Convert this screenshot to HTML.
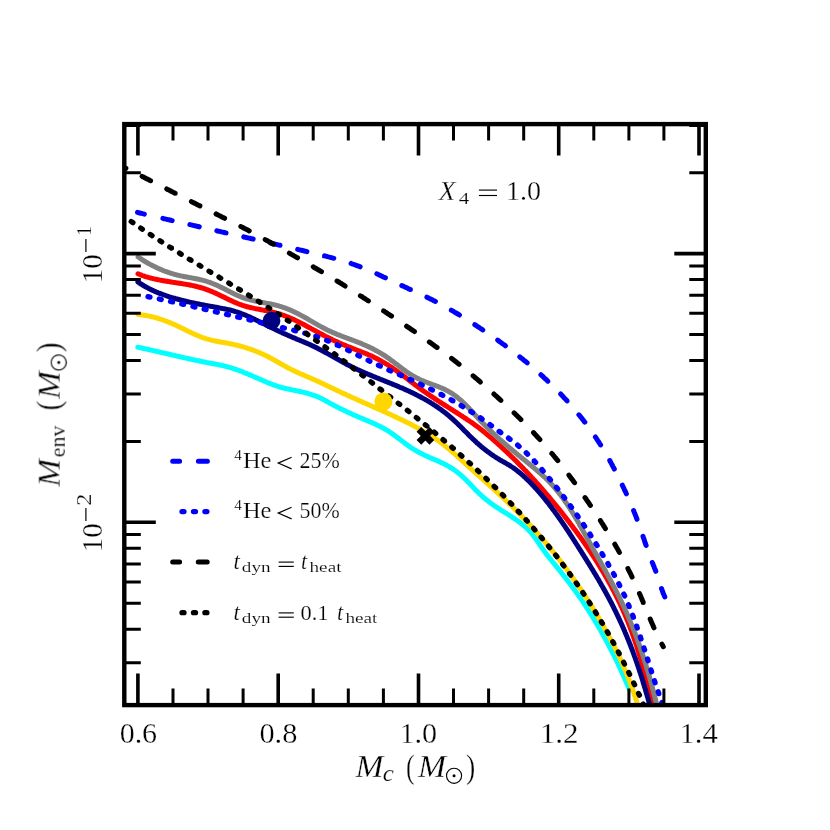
<!DOCTYPE html>
<html><head><meta charset="utf-8"><title>fig</title>
<style>
html,body{margin:0;padding:0;background:#fff;}
svg{display:block;}
text{font-family:"Liberation Serif",serif;fill:#000;stroke:#fff;}
.i{font-style:italic;}
</style></head><body>
<svg width="830" height="830" viewBox="0 0 830 830">
<rect width="830" height="830" fill="#fff"/>
<defs><clipPath id="ax"><rect x="124.3" y="124.1" width="581.5" height="581.0"/></clipPath></defs>
<g clip-path="url(#ax)">
<path d="M137.8 347.2 L138.8 347.4 L139.8 347.6 L140.7 347.8 L141.7 348.0 L142.7 348.3 L143.7 348.5 L144.6 348.7 L145.6 348.9 L146.6 349.1 L147.6 349.3 L148.5 349.5 L149.5 349.8 L150.5 350.0 L151.5 350.2 L152.5 350.4 L153.4 350.6 L154.4 350.9 L155.4 351.1 L156.4 351.3 L157.4 351.5 L158.3 351.8 L159.3 352.0 L160.3 352.2 L161.3 352.4 L162.3 352.7 L163.2 352.9 L164.2 353.1 L165.2 353.3 L166.2 353.6 L167.2 353.8 L168.1 354.0 L169.1 354.3 L170.1 354.5 L171.1 354.7 L172.0 354.9 L173.0 355.2 L174.0 355.4 L175.0 355.6 L176.0 355.8 L176.9 356.1 L177.9 356.3 L178.9 356.5 L179.9 356.8 L180.9 357.0 L181.8 357.2 L182.8 357.4 L183.8 357.6 L184.8 357.9 L185.7 358.1 L186.7 358.3 L187.7 358.5 L188.7 358.7 L189.6 359.0 L190.6 359.2 L191.6 359.4 L192.6 359.6 L193.5 359.8 L194.5 360.0 L195.5 360.2 L196.5 360.4 L197.4 360.6 L198.4 360.8 L199.4 361.0 L200.4 361.2 L201.3 361.4 L202.3 361.6 L203.3 361.8 L204.2 362.0 L205.2 362.2 L206.2 362.4 L207.2 362.6 L208.1 362.8 L209.1 362.9 L210.1 363.1 L211.0 363.3 L212.0 363.5 L213.0 363.7 L213.9 363.8 L214.9 364.0 L215.9 364.2 L216.8 364.4 L217.8 364.6 L218.8 364.8 L219.7 365.0 L220.7 365.2 L221.6 365.4 L222.6 365.6 L223.6 365.8 L224.5 366.1 L225.5 366.3 L226.4 366.6 L227.4 366.8 L228.4 367.1 L229.3 367.3 L230.3 367.6 L231.2 367.9 L232.2 368.2 L233.1 368.5 L234.1 368.8 L235.1 369.1 L236.0 369.4 L237.0 369.8 L237.9 370.1 L238.9 370.5 L239.8 370.8 L240.8 371.2 L241.7 371.5 L242.7 371.9 L243.6 372.3 L244.5 372.7 L245.5 373.1 L246.4 373.4 L247.4 373.8 L248.3 374.2 L249.3 374.6 L250.2 375.0 L251.1 375.4 L252.1 375.8 L253.0 376.2 L254.0 376.6 L254.9 377.1 L255.8 377.5 L256.8 377.9 L257.7 378.3 L258.6 378.7 L259.6 379.1 L260.5 379.5 L261.4 379.9 L262.3 380.3 L263.3 380.7 L264.2 381.1 L265.1 381.5 L266.1 381.9 L267.0 382.3 L267.9 382.7 L268.8 383.1 L269.8 383.4 L270.7 383.8 L271.6 384.2 L272.5 384.5 L273.5 384.9 L274.4 385.2 L275.3 385.5 L276.2 385.9 L277.2 386.2 L278.1 386.5 L279.0 386.8 L280.0 387.0 L280.9 387.3 L281.8 387.6 L282.8 387.8 L283.7 388.0 L284.6 388.3 L285.6 388.5 L286.5 388.7 L287.5 388.9 L288.4 389.1 L289.4 389.3 L290.3 389.5 L291.3 389.7 L292.2 389.9 L293.2 390.1 L294.1 390.3 L295.1 390.5 L296.1 390.7 L297.0 390.9 L298.0 391.1 L299.0 391.3 L300.0 391.5 L301.0 391.7 L302.0 391.9 L303.0 392.2 L303.9 392.4 L304.9 392.7 L305.9 392.9 L306.9 393.2 L307.9 393.5 L308.9 393.8 L309.9 394.1 L310.9 394.4 L311.8 394.7 L312.8 395.0 L313.8 395.3 L314.7 395.7 L315.7 396.0 L316.6 396.4 L317.6 396.8 L318.5 397.2 L319.4 397.6 L320.3 398.0 L321.2 398.4 L322.1 398.9 L323.0 399.3 L323.8 399.8 L324.7 400.2 L325.5 400.7 L326.4 401.2 L327.3 401.7 L328.1 402.1 L329.0 402.6 L329.8 403.1 L330.7 403.6 L331.6 404.1 L332.4 404.5 L333.3 405.0 L334.2 405.5 L335.1 405.9 L336.0 406.4 L336.8 406.8 L337.7 407.3 L338.6 407.7 L339.5 408.2 L340.4 408.6 L341.3 409.1 L342.2 409.5 L343.2 410.0 L344.1 410.4 L345.0 410.9 L345.9 411.3 L346.8 411.7 L347.7 412.1 L348.6 412.6 L349.6 413.0 L350.5 413.4 L351.4 413.8 L352.3 414.2 L353.2 414.7 L354.2 415.1 L355.1 415.5 L356.0 415.9 L356.9 416.3 L357.8 416.7 L358.7 417.1 L359.7 417.5 L360.6 417.8 L361.5 418.2 L362.4 418.6 L363.3 419.0 L364.2 419.4 L365.1 419.8 L366.0 420.1 L366.9 420.5 L367.8 420.9 L368.7 421.3 L369.6 421.7 L370.5 422.1 L371.4 422.4 L372.3 422.8 L373.2 423.2 L374.1 423.6 L375.0 424.0 L375.9 424.4 L376.8 424.9 L377.6 425.3 L378.5 425.7 L379.4 426.1 L380.3 426.6 L381.1 427.0 L382.0 427.5 L382.9 427.9 L383.7 428.4 L384.6 428.9 L385.5 429.4 L386.3 429.9 L387.2 430.4 L388.0 430.9 L388.9 431.5 L389.7 432.0 L390.6 432.6 L391.4 433.2 L392.3 433.7 L393.1 434.3 L393.9 434.9 L394.8 435.6 L395.6 436.2 L396.4 436.8 L397.3 437.4 L398.1 438.1 L398.9 438.7 L399.8 439.3 L400.6 440.0 L401.4 440.6 L402.2 441.2 L403.1 441.9 L403.9 442.5 L404.7 443.1 L405.5 443.7 L406.4 444.3 L407.2 444.9 L408.0 445.5 L408.8 446.1 L409.7 446.7 L410.5 447.3 L411.3 447.8 L412.2 448.4 L413.0 448.9 L413.8 449.4 L414.7 449.9 L415.5 450.4 L416.3 450.9 L417.2 451.4 L418.0 451.8 L418.9 452.3 L419.7 452.8 L420.6 453.2 L421.4 453.6 L422.3 454.1 L423.1 454.5 L424.0 454.9 L424.9 455.3 L425.7 455.7 L426.6 456.1 L427.5 456.5 L428.4 456.9 L429.2 457.3 L430.1 457.7 L431.0 458.1 L431.9 458.5 L432.8 458.9 L433.7 459.3 L434.6 459.7 L435.6 460.0 L436.5 460.4 L437.4 460.8 L438.3 461.2 L439.2 461.6 L440.1 462.0 L441.0 462.5 L441.9 462.9 L442.9 463.3 L443.8 463.8 L444.7 464.2 L445.6 464.7 L446.5 465.1 L447.4 465.6 L448.2 466.1 L449.1 466.6 L450.0 467.2 L450.9 467.7 L451.8 468.3 L452.6 468.8 L453.5 469.4 L454.3 470.0 L455.2 470.6 L456.0 471.2 L456.8 471.8 L457.6 472.4 L458.4 473.1 L459.2 473.7 L460.0 474.4 L460.7 475.0 L461.5 475.7 L462.3 476.4 L463.0 477.1 L463.7 477.7 L464.4 478.4 L465.1 479.1 L465.9 479.8 L466.6 480.5 L467.2 481.2 L467.9 481.9 L468.6 482.6 L469.3 483.3 L470.0 484.0 L470.7 484.7 L471.3 485.4 L472.0 486.1 L472.7 486.8 L473.4 487.6 L474.0 488.3 L474.7 489.0 L475.4 489.7 L476.1 490.4 L476.8 491.1 L477.5 491.8 L478.2 492.5 L478.9 493.2 L479.6 493.9 L480.4 494.6 L481.1 495.2 L481.9 495.9 L482.6 496.6 L483.4 497.3 L484.1 497.9 L484.9 498.6 L485.7 499.2 L486.5 499.9 L487.3 500.5 L488.1 501.1 L488.9 501.8 L489.7 502.4 L490.5 503.0 L491.3 503.6 L492.1 504.2 L492.9 504.7 L493.8 505.3 L494.6 505.9 L495.4 506.4 L496.3 507.0 L497.1 507.6 L497.9 508.1 L498.8 508.6 L499.6 509.2 L500.4 509.7 L501.3 510.3 L502.1 510.8 L503.0 511.3 L503.8 511.9 L504.7 512.4 L505.5 512.9 L506.4 513.4 L507.2 514.0 L508.0 514.5 L508.9 515.0 L509.7 515.6 L510.6 516.1 L511.4 516.7 L512.2 517.2 L513.1 517.7 L513.9 518.3 L514.8 518.9 L515.6 519.4 L516.4 520.0 L517.2 520.6 L518.1 521.2 L518.9 521.7 L519.7 522.3 L520.5 523.0 L521.3 523.6 L522.1 524.2 L522.8 524.8 L523.6 525.5 L524.4 526.1 L525.1 526.8 L525.9 527.4 L526.6 528.1 L527.3 528.8 L528.0 529.5 L528.7 530.2 L529.4 530.9 L530.1 531.7 L530.7 532.4 L531.4 533.2 L532.0 533.9 L532.6 534.7 L533.2 535.5 L533.8 536.3 L534.4 537.0 L535.0 537.8 L535.6 538.7 L536.2 539.5 L536.8 540.3 L537.3 541.1 L537.9 541.9 L538.5 542.7 L539.0 543.6 L539.6 544.4 L540.1 545.2 L540.7 546.0 L541.3 546.9 L541.8 547.7 L542.4 548.5 L543.0 549.3 L543.6 550.2 L544.2 551.0 L544.7 551.8 L545.3 552.6 L545.9 553.4 L546.5 554.2 L547.1 555.0 L547.8 555.8 L548.4 556.6 L549.0 557.4 L549.6 558.1 L550.2 558.9 L550.9 559.7 L551.5 560.5 L552.1 561.3 L552.7 562.1 L553.4 562.8 L554.0 563.6 L554.6 564.4 L555.3 565.2 L555.9 565.9 L556.5 566.7 L557.2 567.5 L557.8 568.3 L558.4 569.0 L559.1 569.8 L559.7 570.6 L560.3 571.4 L561.0 572.1 L561.6 572.9 L562.2 573.7 L562.8 574.5 L563.4 575.3 L564.1 576.1 L564.7 576.8 L565.3 577.6 L565.9 578.4 L566.5 579.2 L567.1 580.0 L567.7 580.8 L568.3 581.6 L568.9 582.4 L569.5 583.2 L570.1 584.0 L570.7 584.8 L571.3 585.5 L571.9 586.4 L572.5 587.2 L573.1 588.0 L573.7 588.8 L574.3 589.6 L574.9 590.4 L575.5 591.2 L576.0 592.0 L576.6 592.8 L577.2 593.6 L577.8 594.4 L578.4 595.3 L578.9 596.1 L579.5 596.9 L580.1 597.7 L580.6 598.5 L581.2 599.4 L581.8 600.2 L582.3 601.0 L582.9 601.8 L583.4 602.7 L584.0 603.5 L584.5 604.3 L585.1 605.2 L585.6 606.0 L586.2 606.8 L586.7 607.7 L587.3 608.5 L587.8 609.4 L588.4 610.2 L588.9 611.0 L589.4 611.9 L590.0 612.7 L590.5 613.6 L591.0 614.4 L591.6 615.3 L592.1 616.1 L592.6 617.0 L593.1 617.8 L593.7 618.7 L594.2 619.5 L594.7 620.4 L595.2 621.3 L595.7 622.1 L596.2 623.0 L596.8 623.8 L597.3 624.7 L597.8 625.6 L598.3 626.4 L598.8 627.3 L599.3 628.2 L599.8 629.0 L600.3 629.9 L600.8 630.8 L601.3 631.6 L601.8 632.5 L602.3 633.4 L602.7 634.3 L603.2 635.1 L603.7 636.0 L604.2 636.9 L604.7 637.8 L605.2 638.6 L605.6 639.5 L606.1 640.4 L606.6 641.3 L607.1 642.2 L607.5 643.0 L608.0 643.9 L608.5 644.8 L608.9 645.7 L609.4 646.6 L609.9 647.5 L610.3 648.4 L610.8 649.3 L611.2 650.2 L611.7 651.0 L612.2 651.9 L612.6 652.8 L613.1 653.7 L613.5 654.6 L614.0 655.5 L614.4 656.4 L614.8 657.3 L615.3 658.2 L615.7 659.1 L616.2 660.0 L616.6 660.9 L617.0 661.8 L617.5 662.7 L617.9 663.6 L618.3 664.5 L618.7 665.4 L619.2 666.3 L619.6 667.2 L620.0 668.1 L620.4 669.0 L620.9 669.9 L621.3 670.9 L621.7 671.8 L622.1 672.7 L622.5 673.6 L622.9 674.5 L623.3 675.4 L623.7 676.3 L624.1 677.2 L624.5 678.1 L624.9 679.1 L625.3 680.0 L625.7 680.9 L626.1 681.8 L626.5 682.7 L626.9 683.6 L627.3 684.6 L627.7 685.5 L628.1 686.4 L628.5 687.3 L628.9 688.2 L629.2 689.1 L629.6 689.9" fill="none" stroke="#00ffff" stroke-width="5.0" stroke-linejoin="round" stroke-linecap="round"/>
<path d="M137.9 314.5 L138.9 314.6 L139.9 314.7 L141.0 314.8 L142.0 314.9 L142.9 315.1 L143.9 315.2 L144.9 315.4 L145.9 315.5 L146.9 315.7 L147.9 315.9 L148.8 316.1 L149.8 316.3 L150.8 316.5 L151.7 316.7 L152.7 316.9 L153.7 317.2 L154.6 317.4 L155.6 317.7 L156.5 318.0 L157.4 318.2 L158.4 318.5 L159.3 318.8 L160.3 319.1 L161.2 319.4 L162.1 319.7 L163.1 320.1 L164.0 320.4 L164.9 320.7 L165.9 321.1 L166.8 321.4 L167.7 321.8 L168.6 322.1 L169.6 322.5 L170.5 322.9 L171.4 323.3 L172.3 323.7 L173.2 324.1 L174.2 324.5 L175.1 324.9 L176.0 325.3 L176.9 325.8 L177.8 326.2 L178.8 326.6 L179.7 327.1 L180.6 327.5 L181.5 328.0 L182.4 328.4 L183.4 328.8 L184.3 329.3 L185.2 329.8 L186.1 330.2 L187.0 330.7 L188.0 331.1 L188.9 331.6 L189.8 332.0 L190.7 332.4 L191.7 332.9 L192.6 333.3 L193.5 333.7 L194.4 334.2 L195.4 334.6 L196.3 335.0 L197.2 335.4 L198.2 335.8 L199.1 336.2 L200.0 336.5 L201.0 336.9 L201.9 337.3 L202.8 337.6 L203.8 337.9 L204.7 338.3 L205.7 338.6 L206.6 338.9 L207.6 339.1 L208.5 339.4 L209.4 339.7 L210.4 339.9 L211.3 340.1 L212.3 340.4 L213.2 340.6 L214.2 340.8 L215.2 341.0 L216.1 341.2 L217.1 341.3 L218.0 341.5 L219.0 341.7 L219.9 341.9 L220.9 342.0 L221.9 342.2 L222.8 342.4 L223.8 342.5 L224.7 342.7 L225.7 342.9 L226.7 343.1 L227.6 343.2 L228.6 343.4 L229.5 343.6 L230.5 343.8 L231.5 344.0 L232.4 344.2 L233.4 344.4 L234.3 344.6 L235.3 344.8 L236.3 345.1 L237.2 345.3 L238.2 345.5 L239.1 345.8 L240.1 346.0 L241.1 346.3 L242.0 346.6 L243.0 346.8 L243.9 347.1 L244.9 347.4 L245.8 347.7 L246.8 348.0 L247.7 348.3 L248.7 348.6 L249.6 348.9 L250.6 349.2 L251.5 349.6 L252.5 349.9 L253.4 350.3 L254.3 350.6 L255.3 351.0 L256.2 351.3 L257.2 351.7 L258.1 352.1 L259.0 352.5 L259.9 352.9 L260.9 353.3 L261.8 353.7 L262.7 354.1 L263.6 354.6 L264.6 355.0 L265.5 355.4 L266.4 355.9 L267.3 356.3 L268.2 356.8 L269.1 357.3 L270.0 357.8 L270.9 358.2 L271.8 358.7 L272.7 359.2 L273.6 359.7 L274.5 360.2 L275.4 360.7 L276.3 361.2 L277.2 361.7 L278.1 362.2 L279.0 362.7 L279.8 363.2 L280.7 363.8 L281.6 364.3 L282.5 364.8 L283.4 365.3 L284.3 365.7 L285.2 366.2 L286.0 366.7 L286.9 367.2 L287.8 367.7 L288.7 368.2 L289.6 368.6 L290.5 369.1 L291.4 369.5 L292.2 370.0 L293.1 370.4 L294.0 370.8 L294.9 371.2 L295.8 371.7 L296.7 372.1 L297.6 372.5 L298.5 372.9 L299.3 373.3 L300.2 373.7 L301.1 374.1 L302.0 374.4 L302.9 374.8 L303.8 375.2 L304.7 375.6 L305.6 376.0 L306.5 376.4 L307.4 376.8 L308.3 377.1 L309.2 377.5 L310.1 377.9 L311.0 378.3 L311.9 378.7 L312.8 379.1 L313.7 379.5 L314.6 379.9 L315.5 380.3 L316.4 380.7 L317.3 381.1 L318.2 381.5 L319.1 381.9 L320.0 382.3 L320.9 382.8 L321.8 383.2 L322.7 383.6 L323.6 384.0 L324.5 384.5 L325.4 384.9 L326.3 385.3 L327.2 385.7 L328.1 386.2 L329.0 386.6 L329.9 387.0 L330.8 387.5 L331.7 387.9 L332.6 388.3 L333.6 388.8 L334.5 389.2 L335.4 389.6 L336.3 390.1 L337.2 390.5 L338.1 390.9 L339.0 391.4 L339.9 391.8 L340.8 392.2 L341.8 392.7 L342.7 393.1 L343.6 393.5 L344.5 393.9 L345.4 394.3 L346.3 394.8 L347.2 395.2 L348.2 395.6 L349.1 396.0 L350.0 396.4 L350.9 396.9 L351.8 397.3 L352.7 397.7 L353.7 398.1 L354.6 398.5 L355.5 398.9 L356.4 399.3 L357.3 399.7 L358.2 400.1 L359.1 400.6 L360.1 401.0 L361.0 401.4 L361.9 401.8 L362.8 402.2 L363.7 402.6 L364.6 403.0 L365.6 403.4 L366.5 403.8 L367.4 404.2 L368.3 404.6 L369.2 405.0 L370.1 405.4 L371.1 405.8 L372.0 406.2 L372.9 406.6 L373.8 407.0 L374.7 407.5 L375.6 407.9 L376.5 408.3 L377.5 408.7 L378.4 409.1 L379.3 409.5 L380.2 409.9 L381.1 410.3 L382.0 410.7 L382.9 411.1 L383.8 411.5 L384.8 411.9 L385.7 412.4 L386.6 412.8 L387.5 413.2 L388.4 413.6 L389.3 414.0 L390.2 414.4 L391.1 414.8 L392.0 415.3 L392.9 415.7 L393.8 416.1 L394.7 416.5 L395.6 416.9 L396.5 417.4 L397.4 417.8 L398.3 418.2 L399.2 418.6 L400.1 419.1 L401.0 419.5 L401.9 419.9 L402.8 420.4 L403.7 420.8 L404.6 421.2 L405.5 421.7 L406.4 422.1 L407.3 422.5 L408.2 423.0 L409.1 423.4 L410.0 423.9 L410.8 424.3 L411.7 424.8 L412.6 425.3 L413.5 425.7 L414.4 426.2 L415.3 426.6 L416.1 427.1 L417.0 427.6 L417.9 428.1 L418.8 428.5 L419.6 429.0 L420.5 429.5 L421.4 430.0 L422.2 430.5 L423.1 431.0 L423.9 431.5 L424.8 432.0 L425.7 432.5 L426.5 433.0 L427.4 433.5 L428.2 434.0 L429.0 434.6 L429.9 435.1 L430.7 435.6 L431.6 436.2 L432.4 436.7 L433.2 437.2 L434.1 437.8 L434.9 438.4 L435.7 438.9 L436.5 439.5 L437.3 440.1 L438.2 440.6 L439.0 441.2 L439.8 441.8 L440.6 442.4 L441.4 443.0 L442.2 443.6 L443.0 444.2 L443.8 444.8 L444.6 445.5 L445.3 446.1 L446.1 446.7 L446.9 447.4 L447.7 448.0 L448.5 448.6 L449.2 449.3 L450.0 449.9 L450.8 450.6 L451.5 451.2 L452.3 451.9 L453.1 452.6 L453.8 453.2 L454.6 453.9 L455.4 454.6 L456.1 455.2 L456.9 455.9 L457.6 456.6 L458.4 457.3 L459.1 457.9 L459.9 458.6 L460.6 459.3 L461.4 460.0 L462.1 460.7 L462.9 461.3 L463.6 462.0 L464.3 462.7 L465.1 463.4 L465.8 464.1 L466.6 464.8 L467.3 465.4 L468.0 466.1 L468.8 466.8 L469.5 467.5 L470.3 468.1 L471.0 468.8 L471.8 469.5 L472.5 470.2 L473.2 470.8 L474.0 471.5 L474.7 472.2 L475.5 472.8 L476.2 473.5 L476.9 474.2 L477.7 474.8 L478.4 475.5 L479.2 476.1 L479.9 476.8 L480.6 477.5 L481.4 478.1 L482.1 478.8 L482.9 479.4 L483.6 480.1 L484.3 480.8 L485.1 481.4 L485.8 482.1 L486.5 482.7 L487.3 483.4 L488.0 484.1 L488.8 484.7 L489.5 485.4 L490.2 486.0 L491.0 486.7 L491.7 487.4 L492.5 488.0 L493.2 488.7 L493.9 489.4 L494.7 490.0 L495.4 490.7 L496.1 491.4 L496.9 492.0 L497.6 492.7 L498.3 493.4 L499.1 494.1 L499.8 494.7 L500.5 495.4 L501.3 496.1 L502.0 496.8 L502.7 497.5 L503.4 498.1 L504.2 498.8 L504.9 499.5 L505.6 500.2 L506.3 500.9 L507.1 501.6 L507.8 502.3 L508.5 503.0 L509.2 503.7 L509.9 504.4 L510.7 505.1 L511.4 505.8 L512.1 506.5 L512.8 507.2 L513.5 507.9 L514.2 508.6 L514.9 509.3 L515.6 510.0 L516.3 510.7 L517.0 511.4 L517.7 512.1 L518.4 512.9 L519.1 513.6 L519.8 514.3 L520.5 515.0 L521.2 515.7 L521.9 516.5 L522.6 517.2 L523.3 517.9 L524.0 518.6 L524.7 519.4 L525.4 520.1 L526.1 520.8 L526.8 521.6 L527.5 522.3 L528.1 523.0 L528.8 523.8 L529.5 524.5 L530.2 525.2 L530.9 526.0 L531.5 526.7 L532.2 527.4 L532.9 528.2 L533.6 528.9 L534.2 529.7 L534.9 530.4 L535.6 531.2 L536.2 531.9 L536.9 532.7 L537.6 533.4 L538.2 534.2 L538.9 534.9 L539.5 535.7 L540.2 536.4 L540.9 537.2 L541.5 537.9 L542.2 538.7 L542.8 539.5 L543.5 540.2 L544.1 541.0 L544.8 541.7 L545.4 542.5 L546.1 543.3 L546.7 544.0 L547.3 544.8 L548.0 545.6 L548.6 546.3 L549.3 547.1 L549.9 547.9 L550.5 548.6 L551.2 549.4 L551.8 550.2 L552.4 551.0 L553.1 551.7 L553.7 552.5 L554.3 553.3 L554.9 554.1 L555.6 554.9 L556.2 555.6 L556.8 556.4 L557.4 557.2 L558.0 558.0 L558.6 558.8 L559.3 559.6 L559.9 560.4 L560.5 561.2 L561.1 561.9 L561.7 562.7 L562.3 563.5 L562.9 564.3 L563.5 565.1 L564.1 565.9 L564.7 566.7 L565.3 567.5 L565.9 568.3 L566.5 569.1 L567.1 569.9 L567.7 570.7 L568.3 571.5 L568.9 572.3 L569.5 573.1 L570.1 573.9 L570.6 574.8 L571.2 575.6 L571.8 576.4 L572.4 577.2 L573.0 578.0 L573.5 578.8 L574.1 579.6 L574.7 580.4 L575.3 581.3 L575.8 582.1 L576.4 582.9 L577.0 583.7 L577.5 584.5 L578.1 585.4 L578.7 586.2 L579.2 587.0 L579.8 587.8 L580.4 588.7 L580.9 589.5 L581.5 590.3 L582.0 591.1 L582.6 592.0 L583.1 592.8 L583.7 593.6 L584.2 594.5 L584.8 595.3 L585.3 596.1 L585.9 597.0 L586.4 597.8 L587.0 598.7 L587.5 599.5 L588.0 600.3 L588.6 601.2 L589.1 602.0 L589.6 602.9 L590.2 603.7 L590.7 604.6 L591.2 605.4 L591.8 606.3 L592.3 607.1 L592.8 608.0 L593.3 608.8 L593.9 609.7 L594.4 610.5 L594.9 611.4 L595.4 612.2 L595.9 613.1 L596.4 614.0 L597.0 614.8 L597.5 615.7 L598.0 616.5 L598.5 617.4 L599.0 618.3 L599.5 619.1 L600.0 620.0 L600.5 620.9 L601.0 621.7 L601.5 622.6 L602.0 623.5 L602.5 624.3 L603.0 625.2 L603.5 626.1 L604.0 627.0 L604.4 627.8 L604.9 628.7 L605.4 629.6 L605.9 630.5 L606.4 631.3 L606.9 632.2 L607.3 633.1 L607.8 634.0 L608.3 634.9 L608.8 635.7 L609.2 636.6 L609.7 637.5 L610.2 638.4 L610.6 639.3 L611.1 640.2 L611.6 641.1 L612.0 642.0 L612.5 642.9 L612.9 643.7 L613.4 644.6 L613.8 645.5 L614.3 646.4 L614.7 647.3 L615.2 648.2 L615.6 649.1 L616.1 650.0 L616.5 650.9 L616.9 651.8 L617.4 652.7 L617.8 653.6 L618.2 654.5 L618.6 655.4 L619.1 656.3 L619.5 657.3 L619.9 658.2 L620.3 659.1 L620.7 660.0 L621.2 660.9 L621.6 661.8 L622.0 662.7 L622.4 663.6 L622.8 664.6 L623.2 665.5 L623.6 666.4 L624.0 667.3 L624.4 668.2 L624.8 669.1 L625.2 670.1 L625.5 671.0 L625.9 671.9 L626.3 672.8 L626.7 673.8 L627.1 674.7 L627.4 675.6 L627.8 676.5 L628.2 677.5 L628.5 678.4 L628.9 679.3 L629.3 680.3 L629.6 681.2 L630.0 682.1 L630.3 683.1 L630.7 684.0 L631.0 684.9 L631.4 685.9 L631.7 686.8 L632.0 687.8 L632.4 688.7 L632.7 689.6 L633.0 690.6 L633.4 691.5 L633.7 692.5 L634.0 693.4 L634.3 694.4 L634.6 695.3 L634.9 696.3 L635.3 697.2 L635.6 698.2 L635.9 699.1 L636.2 700.1 L636.5 701.0 L636.8 702.0 L637.0 702.9 L637.3 703.9 L637.6 704.8 L637.9 705.8 L638.2 706.7 L638.4 707.7 L638.7 708.7 L639.0 709.6 L639.2 710.6 L639.5 711.6 L639.8 712.5 L639.9 713.0" fill="none" stroke="#ffd700" stroke-width="5.0" stroke-linejoin="round" stroke-linecap="round"/>
<path d="M138.0 273.8 L138.9 274.2 L139.8 274.5 L140.8 274.9 L141.7 275.3 L142.6 275.6 L143.6 275.9 L144.5 276.2 L145.5 276.6 L146.4 276.9 L147.4 277.1 L148.3 277.4 L149.3 277.7 L150.3 277.9 L151.2 278.2 L152.2 278.4 L153.2 278.7 L154.1 278.9 L155.1 279.1 L156.1 279.3 L157.1 279.5 L158.1 279.7 L159.0 279.9 L160.0 280.1 L161.0 280.3 L162.0 280.5 L163.0 280.7 L164.0 280.8 L165.0 281.0 L166.0 281.2 L167.0 281.3 L167.9 281.5 L168.9 281.6 L169.9 281.8 L170.9 282.0 L171.9 282.1 L172.9 282.3 L173.9 282.4 L174.9 282.6 L175.9 282.7 L176.9 282.9 L177.9 283.0 L178.9 283.2 L179.9 283.3 L180.9 283.5 L181.9 283.6 L182.8 283.8 L183.8 283.9 L184.8 284.1 L185.8 284.3 L186.8 284.4 L187.8 284.6 L188.8 284.8 L189.7 285.0 L190.7 285.2 L191.7 285.4 L192.7 285.6 L193.7 285.8 L194.6 286.0 L195.6 286.2 L196.6 286.5 L197.5 286.7 L198.5 287.0 L199.4 287.2 L200.4 287.5 L201.4 287.8 L202.3 288.0 L203.3 288.3 L204.2 288.6 L205.1 289.0 L206.1 289.3 L207.0 289.6 L207.9 290.0 L208.9 290.3 L209.8 290.7 L210.7 291.1 L211.6 291.4 L212.5 291.8 L213.4 292.2 L214.4 292.6 L215.3 293.0 L216.2 293.5 L217.1 293.9 L218.0 294.3 L218.9 294.7 L219.8 295.2 L220.7 295.6 L221.6 296.1 L222.5 296.5 L223.4 296.9 L224.3 297.4 L225.2 297.8 L226.1 298.3 L227.0 298.7 L227.9 299.1 L228.8 299.6 L229.7 300.0 L230.6 300.4 L231.5 300.9 L232.5 301.3 L233.4 301.7 L234.3 302.1 L235.2 302.5 L236.1 302.9 L237.0 303.3 L238.0 303.7 L238.9 304.0 L239.8 304.4 L240.8 304.7 L241.7 305.0 L242.6 305.4 L243.6 305.7 L244.5 306.0 L245.5 306.2 L246.4 306.5 L247.4 306.8 L248.4 307.0 L249.3 307.3 L250.3 307.5 L251.3 307.7 L252.2 307.9 L253.2 308.1 L254.2 308.4 L255.2 308.6 L256.1 308.8 L257.1 308.9 L258.1 309.1 L259.1 309.3 L260.1 309.5 L261.0 309.7 L262.0 309.9 L263.0 310.1 L264.0 310.3 L265.0 310.5 L266.0 310.6 L266.9 310.8 L267.9 311.0 L268.9 311.2 L269.9 311.5 L270.8 311.7 L271.8 311.9 L272.8 312.1 L273.7 312.3 L274.7 312.6 L275.7 312.8 L276.6 313.1 L277.6 313.4 L278.5 313.7 L279.5 313.9 L280.4 314.2 L281.4 314.6 L282.3 314.9 L283.3 315.2 L284.2 315.6 L285.1 315.9 L286.1 316.3 L287.0 316.6 L287.9 317.0 L288.8 317.4 L289.8 317.8 L290.7 318.2 L291.6 318.6 L292.5 319.0 L293.4 319.4 L294.3 319.8 L295.2 320.3 L296.1 320.7 L297.0 321.1 L297.9 321.6 L298.8 322.0 L299.7 322.5 L300.6 322.9 L301.5 323.4 L302.4 323.9 L303.3 324.3 L304.2 324.8 L305.1 325.3 L305.9 325.7 L306.8 326.2 L307.7 326.7 L308.6 327.2 L309.5 327.6 L310.4 328.1 L311.2 328.6 L312.1 329.1 L313.0 329.6 L313.9 330.0 L314.7 330.5 L315.6 331.0 L316.5 331.5 L317.4 332.0 L318.3 332.4 L319.1 332.9 L320.0 333.4 L320.9 333.9 L321.8 334.3 L322.7 334.8 L323.5 335.3 L324.4 335.7 L325.3 336.2 L326.2 336.6 L327.1 337.1 L328.0 337.5 L328.9 338.0 L329.8 338.4 L330.7 338.9 L331.6 339.3 L332.4 339.7 L333.3 340.2 L334.2 340.6 L335.1 341.0 L336.1 341.4 L337.0 341.8 L337.9 342.2 L338.8 342.7 L339.7 343.1 L340.6 343.5 L341.5 343.9 L342.4 344.3 L343.3 344.6 L344.3 345.0 L345.2 345.4 L346.1 345.8 L347.0 346.2 L347.9 346.6 L348.9 346.9 L349.8 347.3 L350.7 347.7 L351.7 348.0 L352.6 348.4 L353.5 348.8 L354.5 349.1 L355.4 349.5 L356.3 349.8 L357.3 350.2 L358.2 350.6 L359.1 350.9 L360.1 351.3 L361.0 351.6 L361.9 352.0 L362.9 352.4 L363.8 352.7 L364.7 353.1 L365.7 353.5 L366.6 353.9 L367.5 354.3 L368.4 354.7 L369.3 355.1 L370.3 355.5 L371.2 355.9 L372.1 356.3 L373.0 356.7 L373.9 357.2 L374.8 357.6 L375.7 358.1 L376.6 358.5 L377.5 359.0 L378.3 359.4 L379.2 359.9 L380.1 360.4 L381.0 360.9 L381.8 361.4 L382.7 361.9 L383.6 362.4 L384.4 362.9 L385.3 363.4 L386.1 363.9 L387.0 364.4 L387.8 364.9 L388.7 365.5 L389.5 366.0 L390.3 366.6 L391.2 367.1 L392.0 367.7 L392.8 368.2 L393.6 368.8 L394.5 369.4 L395.3 369.9 L396.1 370.5 L396.9 371.1 L397.7 371.7 L398.5 372.3 L399.3 372.8 L400.1 373.4 L400.9 374.0 L401.7 374.6 L402.5 375.2 L403.3 375.8 L404.1 376.4 L404.9 377.0 L405.7 377.6 L406.5 378.2 L407.3 378.8 L408.0 379.4 L408.8 380.1 L409.6 380.7 L410.4 381.3 L411.2 381.9 L412.0 382.5 L412.8 383.1 L413.6 383.7 L414.4 384.3 L415.2 384.9 L416.0 385.5 L416.8 386.1 L417.6 386.7 L418.4 387.3 L419.2 387.9 L420.0 388.5 L420.8 389.1 L421.6 389.7 L422.5 390.3 L423.3 390.8 L424.1 391.4 L424.9 392.0 L425.7 392.6 L426.6 393.1 L427.4 393.7 L428.2 394.3 L429.1 394.8 L429.9 395.4 L430.7 396.0 L431.6 396.5 L432.4 397.1 L433.3 397.7 L434.1 398.2 L434.9 398.8 L435.8 399.3 L436.6 399.9 L437.5 400.4 L438.3 401.0 L439.1 401.5 L440.0 402.1 L440.8 402.6 L441.7 403.2 L442.5 403.7 L443.4 404.2 L444.2 404.8 L445.1 405.3 L445.9 405.9 L446.8 406.4 L447.6 406.9 L448.5 407.5 L449.3 408.0 L450.1 408.6 L451.0 409.1 L451.8 409.6 L452.7 410.2 L453.5 410.7 L454.4 411.2 L455.2 411.8 L456.0 412.3 L456.9 412.8 L457.7 413.4 L458.5 413.9 L459.4 414.4 L460.2 415.0 L461.0 415.5 L461.9 416.0 L462.7 416.6 L463.5 417.1 L464.3 417.7 L465.2 418.2 L466.0 418.7 L466.8 419.3 L467.6 419.8 L468.4 420.4 L469.3 420.9 L470.1 421.5 L470.9 422.0 L471.7 422.6 L472.5 423.2 L473.3 423.7 L474.1 424.3 L474.9 424.9 L475.7 425.5 L476.5 426.1 L477.3 426.6 L478.1 427.2 L478.9 427.8 L479.7 428.4 L480.5 429.1 L481.3 429.7 L482.0 430.3 L482.8 430.9 L483.6 431.6 L484.4 432.2 L485.2 432.8 L485.9 433.5 L486.7 434.1 L487.5 434.8 L488.3 435.4 L489.0 436.1 L489.8 436.8 L490.6 437.4 L491.3 438.1 L492.1 438.7 L492.9 439.4 L493.6 440.1 L494.4 440.7 L495.1 441.4 L495.9 442.1 L496.6 442.7 L497.4 443.4 L498.1 444.1 L498.9 444.8 L499.6 445.4 L500.4 446.1 L501.1 446.8 L501.9 447.5 L502.6 448.2 L503.3 448.8 L504.1 449.5 L504.8 450.2 L505.5 450.9 L506.3 451.6 L507.0 452.3 L507.7 453.0 L508.4 453.6 L509.2 454.3 L509.9 455.0 L510.6 455.7 L511.3 456.4 L512.0 457.1 L512.8 457.8 L513.5 458.5 L514.2 459.2 L514.9 459.9 L515.6 460.6 L516.3 461.3 L517.0 462.0 L517.7 462.8 L518.4 463.5 L519.1 464.2 L519.8 464.9 L520.5 465.6 L521.2 466.3 L521.9 467.0 L522.6 467.7 L523.3 468.5 L524.0 469.2 L524.7 469.9 L525.4 470.6 L526.1 471.3 L526.8 472.1 L527.4 472.8 L528.1 473.5 L528.8 474.2 L529.5 475.0 L530.2 475.7 L530.8 476.4 L531.5 477.2 L532.2 477.9 L532.9 478.6 L533.5 479.4 L534.2 480.1 L534.9 480.8 L535.5 481.6 L536.2 482.3 L536.9 483.1 L537.5 483.8 L538.2 484.5 L538.9 485.3 L539.5 486.0 L540.2 486.8 L540.8 487.5 L541.5 488.3 L542.2 489.0 L542.8 489.8 L543.5 490.5 L544.1 491.3 L544.8 492.0 L545.4 492.8 L546.1 493.6 L546.7 494.3 L547.4 495.1 L548.0 495.8 L548.7 496.6 L549.3 497.4 L549.9 498.1 L550.6 498.9 L551.2 499.7 L551.9 500.4 L552.5 501.2 L553.1 502.0 L553.8 502.7 L554.4 503.5 L555.0 504.3 L555.7 505.0 L556.3 505.8 L556.9 506.6 L557.6 507.4 L558.2 508.1 L558.8 508.9 L559.4 509.7 L560.1 510.5 L560.7 511.3 L561.3 512.0 L561.9 512.8 L562.5 513.6 L563.2 514.4 L563.8 515.2 L564.4 516.0 L565.0 516.8 L565.6 517.5 L566.2 518.3 L566.9 519.1 L567.5 519.9 L568.1 520.7 L568.7 521.5 L569.3 522.3 L569.9 523.1 L570.5 523.9 L571.1 524.7 L571.7 525.5 L572.3 526.3 L572.9 527.1 L573.5 527.9 L574.1 528.7 L574.7 529.5 L575.3 530.3 L575.9 531.1 L576.5 531.9 L577.1 532.7 L577.7 533.6 L578.3 534.4 L578.9 535.2 L579.4 536.0 L580.0 536.8 L580.6 537.6 L581.2 538.4 L581.8 539.3 L582.4 540.1 L582.9 540.9 L583.5 541.7 L584.1 542.5 L584.7 543.4 L585.2 544.2 L585.8 545.0 L586.4 545.8 L586.9 546.7 L587.5 547.5 L588.1 548.3 L588.6 549.1 L589.2 550.0 L589.7 550.8 L590.3 551.6 L590.8 552.5 L591.4 553.3 L591.9 554.1 L592.5 555.0 L593.0 555.8 L593.6 556.7 L594.1 557.5 L594.7 558.3 L595.2 559.2 L595.8 560.0 L596.3 560.9 L596.8 561.7 L597.4 562.6 L597.9 563.4 L598.4 564.3 L598.9 565.1 L599.5 566.0 L600.0 566.8 L600.5 567.7 L601.0 568.5 L601.5 569.4 L602.1 570.2 L602.6 571.1 L603.1 572.0 L603.6 572.8 L604.1 573.7 L604.6 574.6 L605.1 575.4 L605.6 576.3 L606.1 577.1 L606.6 578.0 L607.1 578.9 L607.6 579.8 L608.1 580.6 L608.6 581.5 L609.0 582.4 L609.5 583.2 L610.0 584.1 L610.5 585.0 L611.0 585.9 L611.4 586.7 L611.9 587.6 L612.4 588.5 L612.8 589.4 L613.3 590.3 L613.8 591.2 L614.2 592.0 L614.7 592.9 L615.1 593.8 L615.6 594.7 L616.0 595.6 L616.5 596.5 L616.9 597.4 L617.4 598.3 L617.8 599.2 L618.3 600.1 L618.7 601.0 L619.1 601.9 L619.6 602.8 L620.0 603.7 L620.4 604.6 L620.8 605.5 L621.2 606.4 L621.7 607.3 L622.1 608.2 L622.5 609.1 L622.9 610.0 L623.3 610.9 L623.7 611.8 L624.1 612.7 L624.5 613.6 L624.9 614.5 L625.3 615.5 L625.7 616.4 L626.1 617.3 L626.5 618.2 L626.8 619.1 L627.2 620.1 L627.6 621.0 L628.0 621.9 L628.3 622.8 L628.7 623.8 L629.1 624.7 L629.4 625.6 L629.8 626.5 L630.1 627.5 L630.5 628.4 L630.8 629.3 L631.2 630.3 L631.5 631.2 L631.9 632.1 L632.2 633.1 L632.5 634.0 L632.9 635.0 L633.2 635.9 L633.5 636.8 L633.9 637.8 L634.2 638.7 L634.5 639.7 L634.8 640.6 L635.1 641.6 L635.5 642.5 L635.8 643.4 L636.1 644.4 L636.4 645.3 L636.7 646.3 L637.0 647.2 L637.3 648.2 L637.6 649.2 L637.9 650.1 L638.2 651.1 L638.5 652.0 L638.8 653.0 L639.1 653.9 L639.4 654.9 L639.7 655.8 L640.0 656.8 L640.3 657.8 L640.6 658.7 L640.9 659.7 L641.2 660.6 L641.5 661.6 L641.7 662.6 L642.0 663.5 L642.3 664.5 L642.6 665.4 L642.9 666.4 L643.2 667.4 L643.5 668.3 L643.8 669.3 L644.0 670.3 L644.3 671.2 L644.6 672.2 L644.9 673.1 L645.2 674.1 L645.5 675.1 L645.8 676.0 L646.1 677.0 L646.3 678.0 L646.6 678.9 L646.9 679.9 L647.2 680.9 L647.5 681.8 L647.8 682.8 L648.1 683.8 L648.3 684.7 L648.6 685.7 L648.9 686.6 L649.2 687.6 L649.5 688.6 L649.7 689.5 L650.0 690.5 L650.3 691.5 L650.6 692.4 L650.8 693.4 L651.1 694.4 L651.4 695.3 L651.6 696.3 L651.9 697.3 L652.2 698.2 L652.4 699.2 L652.7 700.1 L652.9 701.1 L653.2 702.1 L653.4 703.0 L653.6 704.0 L653.9 704.9 L654.1 705.9 L654.3 706.9 L654.5 707.8 L654.8 708.8 L655.0 709.7 L655.2 710.7 L655.4 711.6 L655.6 712.6 L655.7 712.9" fill="none" stroke="#ff0000" stroke-width="5.0" stroke-linejoin="round" stroke-linecap="round"/>
<path d="M137.9 282.0 L138.7 282.6 L139.6 283.1 L140.4 283.7 L141.3 284.2 L142.1 284.7 L143.0 285.3 L143.9 285.8 L144.7 286.3 L145.6 286.8 L146.5 287.3 L147.4 287.7 L148.2 288.2 L149.1 288.6 L150.0 289.1 L150.9 289.5 L151.8 290.0 L152.7 290.4 L153.6 290.8 L154.5 291.2 L155.4 291.6 L156.3 292.0 L157.3 292.4 L158.2 292.8 L159.1 293.1 L160.0 293.5 L161.0 293.8 L161.9 294.2 L162.8 294.5 L163.8 294.9 L164.7 295.2 L165.6 295.5 L166.6 295.9 L167.5 296.2 L168.5 296.5 L169.4 296.8 L170.4 297.1 L171.3 297.4 L172.3 297.7 L173.2 297.9 L174.2 298.2 L175.2 298.5 L176.1 298.8 L177.1 299.0 L178.1 299.3 L179.0 299.5 L180.0 299.8 L181.0 300.0 L181.9 300.3 L182.9 300.5 L183.9 300.8 L184.9 301.0 L185.9 301.3 L186.8 301.5 L187.8 301.7 L188.8 301.9 L189.8 302.2 L190.8 302.4 L191.7 302.6 L192.7 302.8 L193.7 303.0 L194.7 303.2 L195.7 303.4 L196.7 303.6 L197.7 303.8 L198.7 304.0 L199.6 304.2 L200.6 304.4 L201.6 304.6 L202.6 304.8 L203.6 305.0 L204.6 305.2 L205.6 305.4 L206.6 305.6 L207.5 305.7 L208.5 305.9 L209.5 306.1 L210.5 306.3 L211.5 306.5 L212.5 306.6 L213.5 306.8 L214.5 307.0 L215.4 307.2 L216.4 307.3 L217.4 307.5 L218.4 307.7 L219.4 307.9 L220.3 308.1 L221.3 308.3 L222.3 308.4 L223.2 308.6 L224.2 308.8 L225.2 309.0 L226.1 309.2 L227.1 309.4 L228.1 309.6 L229.0 309.8 L230.0 310.0 L230.9 310.2 L231.9 310.5 L232.8 310.7 L233.8 311.0 L234.7 311.3 L235.6 311.6 L236.6 311.9 L237.5 312.2 L238.4 312.5 L239.4 312.8 L240.3 313.1 L241.2 313.5 L242.1 313.8 L243.1 314.2 L244.0 314.6 L244.9 314.9 L245.8 315.3 L246.7 315.7 L247.6 316.1 L248.6 316.5 L249.5 316.9 L250.4 317.3 L251.3 317.8 L252.2 318.2 L253.1 318.6 L254.0 319.0 L254.9 319.5 L255.8 319.9 L256.7 320.4 L257.6 320.8 L258.5 321.2 L259.5 321.7 L260.4 322.1 L261.3 322.6 L262.2 323.0 L263.1 323.5 L264.0 323.9 L264.9 324.4 L265.8 324.9 L266.7 325.3 L267.6 325.8 L268.5 326.2 L269.4 326.7 L270.4 327.1 L271.3 327.5 L272.2 328.0 L273.1 328.4 L274.0 328.9 L274.9 329.3 L275.8 329.7 L276.7 330.2 L277.7 330.6 L278.6 331.0 L279.5 331.5 L280.4 331.9 L281.3 332.3 L282.2 332.7 L283.1 333.2 L284.1 333.6 L285.0 334.0 L285.9 334.4 L286.8 334.8 L287.7 335.2 L288.6 335.6 L289.5 336.0 L290.4 336.4 L291.4 336.8 L292.3 337.2 L293.2 337.6 L294.1 337.9 L295.0 338.3 L295.9 338.7 L296.8 339.1 L297.7 339.5 L298.6 339.8 L299.6 340.2 L300.5 340.6 L301.4 341.0 L302.3 341.3 L303.2 341.7 L304.1 342.1 L305.0 342.5 L305.9 342.9 L306.8 343.3 L307.7 343.7 L308.6 344.0 L309.5 344.4 L310.4 344.9 L311.3 345.3 L312.2 345.7 L313.1 346.1 L314.0 346.5 L314.8 346.9 L315.7 347.4 L316.6 347.8 L317.5 348.3 L318.4 348.7 L319.3 349.2 L320.2 349.6 L321.0 350.1 L321.9 350.6 L322.8 351.0 L323.7 351.5 L324.6 352.0 L325.5 352.5 L326.3 352.9 L327.2 353.4 L328.1 353.9 L329.0 354.4 L329.9 354.9 L330.7 355.4 L331.6 355.9 L332.5 356.4 L333.4 356.9 L334.2 357.4 L335.1 357.9 L336.0 358.4 L336.9 358.9 L337.8 359.3 L338.7 359.8 L339.5 360.3 L340.4 360.8 L341.3 361.3 L342.2 361.8 L343.1 362.3 L344.0 362.8 L344.9 363.2 L345.7 363.7 L346.6 364.2 L347.5 364.7 L348.4 365.1 L349.3 365.6 L350.2 366.0 L351.1 366.5 L352.0 366.9 L352.9 367.4 L353.8 367.8 L354.7 368.2 L355.6 368.7 L356.5 369.1 L357.4 369.5 L358.4 369.9 L359.3 370.4 L360.2 370.8 L361.1 371.2 L362.0 371.6 L362.9 372.0 L363.8 372.4 L364.8 372.8 L365.7 373.2 L366.6 373.6 L367.5 374.0 L368.4 374.4 L369.4 374.7 L370.3 375.1 L371.2 375.5 L372.1 375.9 L373.1 376.3 L374.0 376.6 L374.9 377.0 L375.8 377.4 L376.8 377.8 L377.7 378.1 L378.6 378.5 L379.5 378.9 L380.5 379.3 L381.4 379.6 L382.3 380.0 L383.2 380.4 L384.2 380.7 L385.1 381.1 L386.0 381.5 L386.9 381.9 L387.9 382.2 L388.8 382.6 L389.7 383.0 L390.6 383.3 L391.6 383.7 L392.5 384.1 L393.4 384.5 L394.3 384.9 L395.3 385.2 L396.2 385.6 L397.1 386.0 L398.0 386.4 L398.9 386.8 L399.8 387.2 L400.8 387.6 L401.7 387.9 L402.6 388.3 L403.5 388.7 L404.4 389.1 L405.3 389.6 L406.2 390.0 L407.1 390.4 L408.1 390.8 L409.0 391.2 L409.9 391.6 L410.8 392.1 L411.7 392.5 L412.6 392.9 L413.5 393.4 L414.4 393.8 L415.3 394.2 L416.2 394.7 L417.0 395.1 L417.9 395.6 L418.8 396.1 L419.7 396.5 L420.6 397.0 L421.5 397.5 L422.3 397.9 L423.2 398.4 L424.1 398.9 L425.0 399.4 L425.8 399.9 L426.7 400.4 L427.6 400.9 L428.4 401.4 L429.3 401.9 L430.1 402.4 L431.0 403.0 L431.8 403.5 L432.7 404.0 L433.5 404.6 L434.3 405.1 L435.2 405.6 L436.0 406.2 L436.8 406.8 L437.7 407.3 L438.5 407.9 L439.3 408.5 L440.1 409.0 L440.9 409.6 L441.7 410.2 L442.5 410.8 L443.3 411.4 L444.1 412.0 L444.9 412.6 L445.7 413.2 L446.5 413.8 L447.2 414.5 L448.0 415.1 L448.8 415.7 L449.5 416.4 L450.3 417.0 L451.0 417.7 L451.8 418.4 L452.5 419.0 L453.3 419.7 L454.0 420.4 L454.7 421.0 L455.4 421.7 L456.2 422.4 L456.9 423.1 L457.6 423.8 L458.3 424.5 L459.0 425.2 L459.8 425.9 L460.5 426.6 L461.2 427.3 L461.9 428.0 L462.6 428.7 L463.3 429.5 L464.0 430.2 L464.7 430.9 L465.4 431.6 L466.2 432.3 L466.9 433.0 L467.6 433.7 L468.3 434.5 L469.0 435.2 L469.7 435.9 L470.4 436.6 L471.2 437.3 L471.9 438.0 L472.6 438.7 L473.3 439.4 L474.1 440.1 L474.8 440.8 L475.5 441.5 L476.3 442.2 L477.0 442.9 L477.8 443.5 L478.6 444.2 L479.3 444.9 L480.1 445.6 L480.9 446.2 L481.6 446.9 L482.4 447.5 L483.2 448.2 L484.0 448.8 L484.8 449.4 L485.6 450.1 L486.4 450.7 L487.2 451.3 L488.0 451.9 L488.9 452.5 L489.7 453.1 L490.5 453.7 L491.3 454.3 L492.1 454.8 L493.0 455.4 L493.8 456.0 L494.6 456.5 L495.5 457.1 L496.3 457.6 L497.1 458.1 L498.0 458.6 L498.8 459.2 L499.6 459.7 L500.5 460.2 L501.3 460.6 L502.1 461.1 L503.0 461.6 L503.8 462.1 L504.6 462.5 L505.5 463.0 L506.3 463.5 L507.1 464.0 L507.9 464.4 L508.8 464.9 L509.6 465.4 L510.4 465.9 L511.2 466.5 L512.0 467.0 L512.8 467.5 L513.6 468.1 L514.4 468.7 L515.2 469.2 L516.0 469.8 L516.8 470.4 L517.6 471.0 L518.3 471.7 L519.1 472.3 L519.9 472.9 L520.7 473.6 L521.4 474.2 L522.2 474.9 L522.9 475.5 L523.7 476.2 L524.4 476.9 L525.2 477.6 L525.9 478.3 L526.7 479.0 L527.4 479.7 L528.1 480.4 L528.9 481.1 L529.6 481.8 L530.3 482.6 L531.0 483.3 L531.7 484.0 L532.4 484.8 L533.2 485.5 L533.9 486.3 L534.5 487.0 L535.2 487.8 L535.9 488.6 L536.6 489.3 L537.3 490.1 L538.0 490.9 L538.7 491.6 L539.3 492.4 L540.0 493.2 L540.7 493.9 L541.3 494.7 L542.0 495.5 L542.6 496.3 L543.3 497.1 L543.9 497.8 L544.5 498.6 L545.2 499.4 L545.8 500.2 L546.4 501.0 L547.1 501.8 L547.7 502.5 L548.3 503.3 L548.9 504.1 L549.5 504.9 L550.1 505.7 L550.7 506.5 L551.3 507.3 L551.9 508.1 L552.5 508.9 L553.1 509.7 L553.7 510.5 L554.3 511.3 L554.9 512.1 L555.5 512.9 L556.1 513.7 L556.7 514.5 L557.2 515.3 L557.8 516.1 L558.4 516.9 L558.9 517.7 L559.5 518.5 L560.1 519.3 L560.6 520.1 L561.2 520.9 L561.8 521.7 L562.3 522.6 L562.9 523.4 L563.4 524.2 L564.0 525.0 L564.5 525.8 L565.1 526.6 L565.6 527.4 L566.2 528.3 L566.7 529.1 L567.3 529.9 L567.8 530.7 L568.4 531.6 L568.9 532.4 L569.4 533.2 L570.0 534.0 L570.5 534.9 L571.1 535.7 L571.6 536.5 L572.1 537.3 L572.7 538.2 L573.2 539.0 L573.7 539.8 L574.3 540.7 L574.8 541.5 L575.3 542.3 L575.9 543.2 L576.4 544.0 L576.9 544.8 L577.5 545.7 L578.0 546.5 L578.5 547.4 L579.1 548.2 L579.6 549.0 L580.1 549.9 L580.7 550.7 L581.2 551.6 L581.7 552.4 L582.3 553.3 L582.8 554.1 L583.3 555.0 L583.9 555.8 L584.4 556.7 L584.9 557.5 L585.5 558.4 L586.0 559.2 L586.5 560.1 L587.1 560.9 L587.6 561.8 L588.1 562.6 L588.7 563.5 L589.2 564.3 L589.7 565.2 L590.2 566.1 L590.8 566.9 L591.3 567.8 L591.8 568.6 L592.4 569.5 L592.9 570.4 L593.4 571.2 L593.9 572.1 L594.4 573.0 L595.0 573.8 L595.5 574.7 L596.0 575.6 L596.5 576.4 L597.0 577.3 L597.6 578.2 L598.1 579.0 L598.6 579.9 L599.1 580.8 L599.6 581.7 L600.1 582.5 L600.6 583.4 L601.1 584.3 L601.6 585.2 L602.1 586.0 L602.6 586.9 L603.1 587.8 L603.6 588.7 L604.1 589.6 L604.6 590.4 L605.1 591.3 L605.6 592.2 L606.1 593.1 L606.5 594.0 L607.0 594.8 L607.5 595.7 L608.0 596.6 L608.5 597.5 L608.9 598.4 L609.4 599.3 L609.9 600.2 L610.3 601.1 L610.8 601.9 L611.3 602.8 L611.7 603.7 L612.2 604.6 L612.6 605.5 L613.1 606.4 L613.5 607.3 L614.0 608.2 L614.4 609.1 L614.9 610.0 L615.3 610.9 L615.8 611.8 L616.2 612.7 L616.6 613.6 L617.1 614.5 L617.5 615.4 L617.9 616.3 L618.3 617.2 L618.8 618.1 L619.2 619.0 L619.6 619.9 L620.0 620.8 L620.4 621.7 L620.8 622.6 L621.3 623.5 L621.7 624.4 L622.1 625.3 L622.5 626.3 L622.9 627.2 L623.3 628.1 L623.7 629.0 L624.1 629.9 L624.5 630.8 L624.9 631.7 L625.2 632.6 L625.6 633.6 L626.0 634.5 L626.4 635.4 L626.8 636.3 L627.2 637.2 L627.5 638.1 L627.9 639.1 L628.3 640.0 L628.7 640.9 L629.0 641.8 L629.4 642.8 L629.8 643.7 L630.1 644.6 L630.5 645.5 L630.9 646.5 L631.2 647.4 L631.6 648.3 L631.9 649.2 L632.3 650.2 L632.6 651.1 L633.0 652.0 L633.3 653.0 L633.7 653.9 L634.0 654.8 L634.3 655.8 L634.7 656.7 L635.0 657.6 L635.4 658.6 L635.7 659.5 L636.0 660.4 L636.3 661.4 L636.7 662.3 L637.0 663.3 L637.3 664.2 L637.6 665.1 L638.0 666.1 L638.3 667.0 L638.6 668.0 L638.9 668.9 L639.2 669.9 L639.5 670.8 L639.8 671.8 L640.2 672.7 L640.5 673.6 L640.8 674.6 L641.1 675.5 L641.4 676.5 L641.7 677.4 L642.0 678.4 L642.3 679.4 L642.6 680.3 L642.9 681.3 L643.1 682.2 L643.4 683.2 L643.7 684.1 L644.0 685.1 L644.3 686.0 L644.6 687.0 L644.9 688.0 L645.2 688.9 L645.5 689.9 L645.7 690.9 L646.0 691.8 L646.3 692.8 L646.6 693.7 L646.9 694.7 L647.2 695.7 L647.4 696.6 L647.7 697.6 L648.0 698.6 L648.3 699.5 L648.5 700.5 L648.8 701.5 L649.1 702.5 L649.4 703.4 L649.7 704.4 L649.9 705.4 L650.2 706.4 L650.5 707.3 L650.8 708.3 L651.1 709.3 L651.3 710.3 L651.6 711.2 L651.9 712.2 L652.1 713.1" fill="none" stroke="#000080" stroke-width="5.0" stroke-linejoin="round" stroke-linecap="round"/>
<path d="M138.1 257.0 L138.9 257.5 L139.7 258.0 L140.5 258.6 L141.3 259.1 L142.1 259.6 L142.9 260.1 L143.7 260.7 L144.6 261.2 L145.4 261.7 L146.3 262.2 L147.1 262.7 L148.0 263.2 L148.8 263.6 L149.7 264.1 L150.6 264.6 L151.5 265.1 L152.4 265.5 L153.3 266.0 L154.2 266.4 L155.1 266.9 L156.0 267.3 L156.9 267.8 L157.8 268.2 L158.8 268.6 L159.7 269.0 L160.6 269.4 L161.6 269.8 L162.5 270.2 L163.4 270.6 L164.4 271.0 L165.3 271.3 L166.3 271.7 L167.3 272.0 L168.2 272.4 L169.2 272.7 L170.1 273.0 L171.1 273.3 L172.1 273.6 L173.1 273.9 L174.0 274.2 L175.0 274.5 L176.0 274.7 L177.0 275.0 L177.9 275.2 L178.9 275.4 L179.9 275.7 L180.9 275.9 L181.9 276.1 L182.8 276.3 L183.8 276.5 L184.8 276.7 L185.8 276.8 L186.8 277.0 L187.8 277.2 L188.7 277.4 L189.7 277.6 L190.7 277.7 L191.7 277.9 L192.6 278.1 L193.6 278.3 L194.6 278.5 L195.6 278.7 L196.5 278.8 L197.5 279.0 L198.5 279.2 L199.4 279.5 L200.4 279.7 L201.3 279.9 L202.3 280.1 L203.2 280.4 L204.2 280.6 L205.1 280.9 L206.1 281.2 L207.0 281.5 L207.9 281.8 L208.9 282.1 L209.8 282.4 L210.7 282.8 L211.6 283.1 L212.5 283.5 L213.4 283.8 L214.4 284.2 L215.3 284.6 L216.2 285.0 L217.1 285.4 L218.0 285.8 L218.9 286.2 L219.8 286.7 L220.7 287.1 L221.6 287.5 L222.5 288.0 L223.4 288.4 L224.3 288.9 L225.2 289.3 L226.1 289.8 L227.0 290.3 L227.9 290.7 L228.8 291.2 L229.7 291.6 L230.6 292.1 L231.5 292.6 L232.4 293.0 L233.3 293.5 L234.2 293.9 L235.1 294.4 L236.1 294.8 L237.0 295.2 L237.9 295.6 L238.8 296.0 L239.8 296.4 L240.7 296.8 L241.6 297.2 L242.6 297.5 L243.5 297.9 L244.5 298.2 L245.4 298.5 L246.4 298.8 L247.3 299.1 L248.3 299.4 L249.3 299.6 L250.2 299.9 L251.2 300.1 L252.2 300.4 L253.1 300.6 L254.1 300.8 L255.1 301.0 L256.1 301.2 L257.0 301.4 L258.0 301.6 L259.0 301.8 L260.0 302.0 L261.0 302.2 L261.9 302.4 L262.9 302.5 L263.9 302.7 L264.9 302.9 L265.9 303.1 L266.8 303.3 L267.8 303.4 L268.8 303.6 L269.8 303.8 L270.7 304.0 L271.7 304.2 L272.7 304.4 L273.6 304.6 L274.6 304.8 L275.6 305.1 L276.5 305.3 L277.5 305.6 L278.4 305.8 L279.3 306.1 L280.3 306.4 L281.2 306.7 L282.2 307.0 L283.1 307.3 L284.0 307.6 L284.9 307.9 L285.8 308.3 L286.8 308.6 L287.7 309.0 L288.6 309.4 L289.5 309.7 L290.4 310.1 L291.3 310.5 L292.2 310.9 L293.1 311.4 L294.0 311.8 L294.9 312.2 L295.8 312.6 L296.7 313.1 L297.6 313.5 L298.5 314.0 L299.3 314.5 L300.2 314.9 L301.1 315.4 L302.0 315.9 L302.9 316.4 L303.8 316.8 L304.6 317.3 L305.5 317.8 L306.4 318.3 L307.3 318.8 L308.2 319.3 L309.0 319.8 L309.9 320.4 L310.8 320.9 L311.7 321.4 L312.6 321.9 L313.4 322.4 L314.3 322.9 L315.2 323.4 L316.1 323.9 L317.0 324.4 L317.8 324.9 L318.7 325.4 L319.6 325.9 L320.5 326.4 L321.4 326.9 L322.3 327.4 L323.2 327.8 L324.1 328.3 L325.0 328.8 L325.9 329.2 L326.8 329.7 L327.7 330.1 L328.6 330.6 L329.5 331.0 L330.4 331.4 L331.3 331.8 L332.2 332.2 L333.1 332.6 L334.1 333.0 L335.0 333.4 L335.9 333.8 L336.8 334.2 L337.7 334.6 L338.7 334.9 L339.6 335.3 L340.5 335.7 L341.4 336.0 L342.4 336.4 L343.3 336.7 L344.2 337.1 L345.2 337.4 L346.1 337.8 L347.0 338.1 L347.9 338.5 L348.9 338.8 L349.8 339.1 L350.7 339.5 L351.7 339.8 L352.6 340.2 L353.5 340.5 L354.4 340.8 L355.4 341.2 L356.3 341.6 L357.2 341.9 L358.1 342.3 L359.1 342.6 L360.0 343.0 L360.9 343.4 L361.8 343.8 L362.7 344.2 L363.7 344.6 L364.6 345.0 L365.5 345.4 L366.4 345.8 L367.3 346.2 L368.2 346.6 L369.1 347.0 L370.0 347.5 L370.9 347.9 L371.8 348.3 L372.7 348.8 L373.6 349.3 L374.5 349.7 L375.4 350.2 L376.3 350.7 L377.1 351.1 L378.0 351.6 L378.9 352.1 L379.7 352.6 L380.6 353.1 L381.5 353.7 L382.3 354.2 L383.2 354.7 L384.0 355.2 L384.8 355.8 L385.7 356.3 L386.5 356.9 L387.3 357.5 L388.2 358.0 L389.0 358.6 L389.8 359.2 L390.6 359.8 L391.4 360.4 L392.2 361.0 L393.0 361.6 L393.8 362.2 L394.6 362.8 L395.4 363.4 L396.2 364.0 L397.0 364.6 L397.8 365.2 L398.6 365.8 L399.4 366.4 L400.2 367.0 L401.0 367.7 L401.8 368.3 L402.6 368.8 L403.4 369.4 L404.2 370.0 L405.0 370.6 L405.8 371.2 L406.6 371.8 L407.4 372.3 L408.2 372.9 L409.1 373.4 L409.9 374.0 L410.7 374.5 L411.6 375.0 L412.4 375.6 L413.3 376.1 L414.1 376.5 L415.0 377.0 L415.9 377.5 L416.7 378.0 L417.6 378.4 L418.5 378.8 L419.4 379.3 L420.3 379.7 L421.2 380.1 L422.2 380.5 L423.1 380.9 L424.0 381.2 L424.9 381.6 L425.9 382.0 L426.8 382.3 L427.8 382.7 L428.7 383.1 L429.6 383.4 L430.6 383.8 L431.5 384.1 L432.5 384.5 L433.4 384.8 L434.3 385.2 L435.3 385.5 L436.2 385.9 L437.2 386.2 L438.1 386.6 L439.0 387.0 L439.9 387.4 L440.9 387.7 L441.8 388.1 L442.7 388.5 L443.6 388.9 L444.5 389.3 L445.4 389.8 L446.3 390.2 L447.2 390.7 L448.0 391.1 L448.9 391.6 L449.8 392.1 L450.6 392.6 L451.4 393.1 L452.3 393.7 L453.1 394.2 L453.9 394.8 L454.7 395.3 L455.5 395.9 L456.3 396.5 L457.1 397.1 L457.8 397.8 L458.6 398.4 L459.4 399.0 L460.1 399.7 L460.9 400.3 L461.6 401.0 L462.3 401.7 L463.1 402.4 L463.8 403.1 L464.5 403.8 L465.2 404.5 L466.0 405.2 L466.7 405.9 L467.4 406.6 L468.1 407.3 L468.8 408.1 L469.5 408.8 L470.2 409.6 L470.9 410.3 L471.6 411.0 L472.2 411.8 L472.9 412.5 L473.6 413.3 L474.3 414.0 L475.0 414.8 L475.7 415.5 L476.4 416.3 L477.1 417.0 L477.8 417.8 L478.4 418.5 L479.1 419.3 L479.8 420.0 L480.5 420.7 L481.2 421.5 L481.9 422.2 L482.6 422.9 L483.3 423.6 L484.0 424.3 L484.7 425.1 L485.4 425.8 L486.1 426.5 L486.8 427.2 L487.5 427.9 L488.3 428.6 L489.0 429.3 L489.7 430.0 L490.4 430.7 L491.1 431.3 L491.8 432.0 L492.6 432.7 L493.3 433.4 L494.0 434.1 L494.7 434.8 L495.5 435.4 L496.2 436.1 L496.9 436.8 L497.7 437.4 L498.4 438.1 L499.1 438.8 L499.9 439.4 L500.6 440.1 L501.4 440.7 L502.1 441.4 L502.8 442.0 L503.6 442.7 L504.3 443.3 L505.1 444.0 L505.8 444.6 L506.6 445.3 L507.3 445.9 L508.1 446.6 L508.9 447.2 L509.6 447.9 L510.4 448.5 L511.1 449.1 L511.9 449.8 L512.7 450.4 L513.4 451.1 L514.2 451.7 L515.0 452.3 L515.7 453.0 L516.5 453.6 L517.3 454.2 L518.0 454.9 L518.8 455.5 L519.6 456.1 L520.4 456.8 L521.2 457.4 L521.9 458.0 L522.7 458.7 L523.5 459.3 L524.3 459.9 L525.1 460.6 L525.9 461.2 L526.6 461.8 L527.4 462.5 L528.2 463.1 L529.0 463.8 L529.8 464.4 L530.6 465.0 L531.3 465.7 L532.1 466.3 L532.9 467.0 L533.7 467.6 L534.4 468.3 L535.2 468.9 L536.0 469.6 L536.8 470.2 L537.5 470.9 L538.3 471.5 L539.0 472.2 L539.8 472.9 L540.6 473.5 L541.3 474.2 L542.0 474.9 L542.8 475.6 L543.5 476.3 L544.3 476.9 L545.0 477.6 L545.7 478.3 L546.4 479.0 L547.1 479.7 L547.9 480.4 L548.6 481.1 L549.3 481.9 L549.9 482.6 L550.6 483.3 L551.3 484.0 L552.0 484.8 L552.7 485.5 L553.3 486.2 L554.0 487.0 L554.6 487.7 L555.3 488.5 L555.9 489.2 L556.5 490.0 L557.2 490.8 L557.8 491.5 L558.4 492.3 L559.0 493.1 L559.6 493.9 L560.3 494.7 L560.9 495.4 L561.4 496.2 L562.0 497.0 L562.6 497.8 L563.2 498.6 L563.8 499.4 L564.4 500.2 L564.9 501.1 L565.5 501.9 L566.1 502.7 L566.6 503.5 L567.2 504.3 L567.7 505.2 L568.3 506.0 L568.8 506.8 L569.4 507.7 L569.9 508.5 L570.4 509.3 L571.0 510.2 L571.5 511.0 L572.0 511.9 L572.5 512.7 L573.1 513.6 L573.6 514.4 L574.1 515.3 L574.6 516.1 L575.1 517.0 L575.6 517.8 L576.1 518.7 L576.6 519.6 L577.2 520.4 L577.7 521.3 L578.2 522.2 L578.7 523.0 L579.2 523.9 L579.6 524.8 L580.1 525.6 L580.6 526.5 L581.1 527.4 L581.6 528.3 L582.1 529.1 L582.6 530.0 L583.1 530.9 L583.6 531.8 L584.1 532.6 L584.5 533.5 L585.0 534.4 L585.5 535.3 L586.0 536.2 L586.5 537.0 L587.0 537.9 L587.5 538.8 L587.9 539.7 L588.4 540.6 L588.9 541.4 L589.4 542.3 L589.9 543.2 L590.4 544.1 L590.9 544.9 L591.4 545.8 L591.8 546.7 L592.3 547.6 L592.8 548.5 L593.3 549.3 L593.8 550.2 L594.3 551.1 L594.8 552.0 L595.3 552.8 L595.8 553.7 L596.3 554.6 L596.8 555.5 L597.2 556.3 L597.7 557.2 L598.2 558.1 L598.7 559.0 L599.2 559.8 L599.7 560.7 L600.2 561.6 L600.7 562.4 L601.2 563.3 L601.7 564.2 L602.2 565.1 L602.6 565.9 L603.1 566.8 L603.6 567.7 L604.1 568.6 L604.6 569.4 L605.1 570.3 L605.6 571.2 L606.0 572.1 L606.5 573.0 L607.0 573.8 L607.5 574.7 L608.0 575.6 L608.4 576.5 L608.9 577.3 L609.4 578.2 L609.9 579.1 L610.4 580.0 L610.8 580.9 L611.3 581.7 L611.8 582.6 L612.2 583.5 L612.7 584.4 L613.2 585.3 L613.6 586.2 L614.1 587.0 L614.6 587.9 L615.0 588.8 L615.5 589.7 L615.9 590.6 L616.4 591.5 L616.8 592.4 L617.3 593.3 L617.7 594.1 L618.2 595.0 L618.6 595.9 L619.1 596.8 L619.5 597.7 L619.9 598.6 L620.4 599.5 L620.8 600.4 L621.2 601.3 L621.7 602.2 L622.1 603.1 L622.5 604.0 L623.0 604.9 L623.4 605.8 L623.8 606.7 L624.2 607.6 L624.6 608.5 L625.0 609.4 L625.4 610.3 L625.8 611.2 L626.3 612.2 L626.7 613.1 L627.1 614.0 L627.5 614.9 L627.9 615.8 L628.2 616.7 L628.6 617.6 L629.0 618.5 L629.4 619.5 L629.8 620.4 L630.2 621.3 L630.6 622.2 L630.9 623.1 L631.3 624.1 L631.7 625.0 L632.1 625.9 L632.4 626.8 L632.8 627.8 L633.2 628.7 L633.6 629.6 L633.9 630.5 L634.3 631.5 L634.6 632.4 L635.0 633.3 L635.4 634.3 L635.7 635.2 L636.1 636.1 L636.4 637.1 L636.8 638.0 L637.1 638.9 L637.4 639.9 L637.8 640.8 L638.1 641.8 L638.5 642.7 L638.8 643.6 L639.1 644.6 L639.5 645.5 L639.8 646.5 L640.1 647.4 L640.5 648.3 L640.8 649.3 L641.1 650.2 L641.4 651.2 L641.8 652.1 L642.1 653.1 L642.4 654.0 L642.7 655.0 L643.0 655.9 L643.3 656.9 L643.6 657.8 L643.9 658.8 L644.3 659.7 L644.6 660.7 L644.9 661.7 L645.2 662.6 L645.5 663.6 L645.8 664.5 L646.1 665.5 L646.3 666.5 L646.6 667.4 L646.9 668.4 L647.2 669.3 L647.5 670.3 L647.8 671.3 L648.1 672.2 L648.4 673.2 L648.6 674.2 L648.9 675.1 L649.2 676.1 L649.5 677.1 L649.8 678.0 L650.0 679.0 L650.3 680.0 L650.6 680.9 L650.8 681.9 L651.1 682.9 L651.4 683.8 L651.6 684.8 L651.9 685.8 L652.2 686.7 L652.4 687.7 L652.7 688.7 L652.9 689.7 L653.2 690.6 L653.4 691.6 L653.7 692.6 L653.9 693.5 L654.2 694.5 L654.4 695.5 L654.7 696.4 L654.9 697.4 L655.2 698.4 L655.4 699.3 L655.7 700.3 L655.9 701.3 L656.1 702.2 L656.4 703.2 L656.6 704.2 L656.9 705.1 L657.1 706.1 L657.3 707.1 L657.5 708.0 L657.8 709.0 L658.0 709.9 L658.2 710.9 L658.5 711.9 L658.7 712.8 L658.7 713.0" fill="none" stroke="#808080" stroke-width="5.0" stroke-linejoin="round" stroke-linecap="round"/>
<path d="M137.5 212.4 L137.9 212.5 L138.8 212.7 L139.8 213.0 L140.7 213.2 L141.7 213.4 L142.7 213.7 L143.6 213.9 L144.3 214.1 M162.9 218.4 L163.9 218.7 L164.9 218.9 L165.9 219.1 L166.8 219.3 L167.8 219.6 L168.8 219.8 L169.7 220.0 L170.7 220.2 L171.7 220.5 L172.2 220.6 M189.9 224.6 L190.2 224.7 L191.2 224.9 L192.2 225.2 L193.1 225.4 L194.1 225.6 L195.1 225.8 L196.1 226.1 L197.0 226.3 L198.0 226.5 L199.0 226.7 L199.2 226.8 M216.8 230.8 L217.6 231.0 L218.6 231.2 L219.6 231.4 L220.5 231.6 L221.5 231.9 L222.5 232.1 L223.5 232.3 L224.4 232.5 L225.4 232.8 L226.1 232.9 M243.8 236.9 L244.0 237.0 L245.0 237.2 L246.0 237.4 L247.0 237.7 L248.0 237.9 L248.9 238.1 L249.9 238.3 L250.9 238.6 L251.9 238.8 L252.9 239.0 L253.1 239.1 M270.8 243.1 L271.4 243.3 L272.4 243.5 L273.4 243.7 L274.3 243.9 L275.3 244.2 L276.3 244.4 L277.3 244.6 L278.2 244.8 L279.2 245.1 L280.0 245.3 M297.7 249.4 L298.6 249.6 L299.6 249.8 L300.5 250.1 L301.5 250.3 L302.5 250.5 L303.4 250.7 L304.4 251.0 L305.4 251.2 L306.3 251.4 L306.9 251.6 M324.6 255.8 L324.6 255.9 L325.6 256.1 L326.5 256.3 L327.5 256.6 L328.4 256.8 L329.4 257.1 L330.3 257.3 L331.3 257.6 L332.2 257.9 L333.2 258.1 L333.8 258.3 M351.1 263.5 L351.2 263.6 L352.1 263.9 L353.1 264.2 L354.0 264.5 L355.0 264.9 L355.9 265.2 L356.8 265.6 L357.8 265.9 L358.7 266.2 L359.7 266.6 L360.1 266.8 M376.8 273.8 L377.4 274.1 L378.3 274.5 L379.2 274.9 L380.1 275.4 L381.1 275.8 L382.0 276.2 L382.9 276.7 L383.8 277.1 L384.8 277.5 L385.4 277.8 M401.8 285.6 L402.1 285.7 L403.0 286.1 L404.0 286.6 L404.9 287.0 L405.8 287.4 L406.7 287.8 L407.6 288.2 L408.5 288.7 L409.4 289.1 L410.3 289.5 L410.4 289.5 M426.9 297.2 L427.3 297.4 L428.1 297.8 L429.0 298.3 L429.9 298.7 L430.8 299.1 L431.7 299.6 L432.6 300.0 L433.5 300.5 L434.3 300.9 L435.2 301.3 L435.4 301.4 M451.3 310.2 L451.8 310.4 L452.6 310.9 L453.5 311.4 L454.4 312.0 L455.2 312.5 L456.1 313.0 L457.0 313.5 L457.8 314.0 L458.7 314.5 L459.5 315.0 M474.8 324.7 L475.7 325.2 L476.5 325.8 L477.3 326.3 L478.2 326.9 L479.0 327.4 L479.9 328.0 L480.7 328.5 L481.5 329.1 L482.4 329.6 L482.8 329.9 M497.7 340.2 L498.0 340.4 L498.8 341.0 L499.6 341.6 L500.5 342.2 L501.3 342.8 L502.1 343.4 L502.9 344.0 L503.7 344.5 L504.5 345.1 L505.3 345.7 L505.4 345.8 M519.8 356.8 L520.3 357.3 L521.1 357.9 L521.9 358.5 L522.7 359.1 L523.4 359.8 L524.2 360.4 L525.0 361.0 L525.8 361.7 L526.5 362.3 L527.2 362.8 M540.9 374.7 L541.6 375.4 L542.3 376.0 L543.1 376.7 L543.8 377.4 L544.5 378.1 L545.3 378.8 L546.0 379.4 L546.7 380.1 L547.4 380.8 L547.8 381.2 M560.7 394.0 L560.9 394.2 L561.6 395.0 L562.3 395.7 L562.9 396.4 L563.6 397.2 L564.3 397.9 L565.0 398.6 L565.7 399.4 L566.3 400.1 L567.0 400.8 L567.1 401.0 M578.9 414.8 L579.4 415.3 L580.0 416.1 L580.6 416.9 L581.3 417.7 L581.9 418.4 L582.5 419.2 L583.1 420.0 L583.7 420.8 L584.3 421.6 L584.8 422.2 M595.4 437.0 L595.4 437.0 L596.0 437.8 L596.5 438.7 L597.1 439.5 L597.6 440.3 L598.2 441.2 L598.7 442.0 L599.3 442.8 L599.8 443.7 L600.3 444.5 L600.6 444.9 M609.8 460.6 L609.9 460.8 L610.4 461.7 L610.9 462.6 L611.3 463.4 L611.8 464.3 L612.3 465.2 L612.7 466.1 L613.2 467.0 L613.7 467.8 L614.1 468.7 L614.3 469.0 M622.3 485.2 L622.6 485.8 L623.0 486.7 L623.5 487.6 L623.9 488.5 L624.3 489.4 L624.7 490.3 L625.2 491.2 L625.6 492.1 L626.0 493.0 L626.4 493.8 M633.6 510.5 L633.6 510.5 L634.0 511.5 L634.3 512.4 L634.7 513.3 L635.1 514.3 L635.4 515.2 L635.8 516.1 L636.2 517.1 L636.5 518.0 L636.9 518.9 L637.0 519.3 M643.0 536.4 L643.1 536.7 L643.4 537.7 L643.8 538.6 L644.1 539.6 L644.4 540.5 L644.7 541.4 L645.0 542.4 L645.3 543.3 L645.7 544.3 L646.0 545.2 L646.1 545.4 M652.3 562.5 L652.6 563.1 L652.9 564.0 L653.3 565.0 L653.7 565.9 L654.1 566.8 L654.4 567.8 L654.8 568.7 L655.2 569.7 L655.5 570.6 L655.8 571.3 M661.5 588.5 L661.8 589.3 L662.1 590.2 L662.5 591.1 L662.8 592.1 L663.1 593.0 L663.5 593.9 L663.9 594.8 L664.3 595.8 L664.7 596.7 L664.8 597.0" fill="none" stroke="#0000ff" stroke-width="5.0" stroke-linecap="round"/>
<path d="M118.1 164.5 L119.0 164.9 L119.9 165.4 L120.8 165.8 L121.7 166.2 L122.5 166.7 L123.4 167.1 L124.3 167.5 L125.2 168.0 L125.9 168.3 M142.1 176.4 L143.0 176.9 L143.9 177.3 L144.8 177.8 L145.7 178.2 L146.6 178.7 L147.5 179.1 L148.4 179.6 L149.2 180.0 L150.1 180.5 L150.6 180.7 M166.8 189.0 L167.1 189.2 L168.0 189.6 L168.9 190.1 L169.8 190.5 L170.7 191.0 L171.6 191.5 L172.5 191.9 L173.4 192.4 L174.2 192.8 L175.1 193.3 L175.2 193.3 M191.4 201.6 L192.1 202.0 L193.0 202.4 L193.9 202.9 L194.8 203.3 L195.7 203.8 L196.6 204.2 L197.5 204.7 L198.4 205.1 L199.2 205.6 L199.9 205.9 M216.1 214.0 L216.2 214.1 L217.1 214.5 L218.0 214.9 L218.9 215.4 L219.7 215.8 L220.6 216.3 L221.5 216.7 L222.4 217.2 L223.3 217.6 L224.2 218.1 L224.6 218.3 M240.8 226.5 L241.0 226.6 L241.9 227.1 L242.8 227.5 L243.7 228.0 L244.6 228.5 L245.5 228.9 L246.4 229.4 L247.2 229.9 L248.1 230.3 L249.0 230.8 L249.2 230.9 M265.2 239.6 L265.7 239.9 L266.6 240.4 L267.5 240.8 L268.4 241.3 L269.2 241.8 L270.1 242.3 L271.0 242.8 L271.9 243.3 L272.7 243.8 L273.5 244.2 M289.3 253.1 L289.3 253.1 L290.2 253.6 L291.0 254.1 L291.9 254.6 L292.8 255.1 L293.6 255.6 L294.5 256.1 L295.4 256.6 L296.2 257.1 L297.1 257.6 L297.5 257.8 M313.3 266.8 L313.5 267.0 L314.3 267.5 L315.2 268.0 L316.1 268.5 L316.9 269.0 L317.8 269.5 L318.6 270.0 L319.5 270.5 L320.3 271.0 L321.2 271.5 L321.5 271.6 M337.0 281.0 L337.4 281.2 L338.3 281.7 L339.1 282.3 L340.0 282.8 L340.8 283.3 L341.7 283.8 L342.5 284.4 L343.4 284.9 L344.2 285.4 L345.1 286.0 L345.1 286.0 M360.4 295.8 L361.1 296.2 L362.0 296.7 L362.8 297.3 L363.6 297.8 L364.5 298.4 L365.3 298.9 L366.2 299.5 L367.0 300.0 L367.9 300.6 L368.4 300.9 M383.6 310.9 L383.8 311.0 L384.6 311.5 L385.5 312.1 L386.3 312.6 L387.1 313.2 L388.0 313.8 L388.8 314.3 L389.6 314.9 L390.5 315.4 L391.3 316.0 L391.5 316.1 M406.6 326.2 L407.1 326.6 L407.9 327.1 L408.7 327.7 L409.6 328.2 L410.4 328.8 L411.2 329.4 L412.0 329.9 L412.8 330.5 L413.7 331.0 L414.5 331.6 M429.3 342.0 L430.0 342.4 L430.8 343.0 L431.6 343.6 L432.4 344.2 L433.2 344.7 L434.0 345.3 L434.8 345.9 L435.6 346.5 L436.4 347.1 L437.1 347.5 M451.6 358.4 L452.3 359.0 L453.1 359.6 L453.9 360.2 L454.7 360.8 L455.5 361.4 L456.3 362.0 L457.0 362.7 L457.8 363.3 L458.6 363.9 L459.1 364.3 M473.1 375.8 L473.3 376.0 L474.1 376.6 L474.8 377.3 L475.6 377.9 L476.4 378.6 L477.1 379.2 L477.9 379.9 L478.6 380.5 L479.4 381.2 L480.2 381.9 L480.3 382.0 M493.9 394.0 L494.4 394.5 L495.1 395.2 L495.9 395.8 L496.6 396.5 L497.4 397.2 L498.1 397.9 L498.8 398.5 L499.6 399.2 L500.3 399.9 L500.9 400.4 M514.1 412.9 L514.8 413.5 L515.5 414.2 L516.2 414.9 L516.9 415.6 L517.6 416.3 L518.4 417.0 L519.1 417.7 L519.8 418.4 L520.5 419.1 L520.9 419.6 M533.5 432.6 L533.7 432.8 L534.3 433.5 L535.0 434.3 L535.7 435.0 L536.4 435.7 L537.0 436.5 L537.7 437.2 L538.4 438.0 L539.1 438.7 L539.7 439.4 L539.9 439.6 M551.8 453.4 L552.2 453.8 L552.8 454.6 L553.4 455.4 L554.1 456.1 L554.7 456.9 L555.3 457.7 L556.0 458.5 L556.6 459.2 L557.2 460.0 L557.8 460.7 M568.9 475.1 L569.4 475.8 L570.0 476.6 L570.6 477.4 L571.2 478.2 L571.8 479.0 L572.4 479.8 L573.0 480.6 L573.6 481.4 L574.2 482.2 L574.6 482.7 M585.0 497.6 L585.1 497.7 L585.7 498.5 L586.2 499.3 L586.8 500.1 L587.4 501.0 L587.9 501.8 L588.5 502.6 L589.1 503.4 L589.6 504.3 L590.2 505.1 L590.4 505.4 M600.4 520.6 L600.6 521.0 L601.2 521.8 L601.7 522.7 L602.2 523.5 L602.8 524.4 L603.3 525.2 L603.8 526.1 L604.4 526.9 L604.9 527.8 L605.4 528.6 L605.4 528.6 M614.8 544.2 L615.2 544.9 L615.7 545.8 L616.2 546.7 L616.7 547.5 L617.2 548.4 L617.7 549.3 L618.2 550.1 L618.6 551.0 L619.1 551.9 L619.4 552.5 M627.9 568.5 L628.0 568.7 L628.4 569.6 L628.9 570.5 L629.3 571.4 L629.8 572.3 L630.2 573.1 L630.6 574.0 L631.1 574.9 L631.5 575.8 L631.9 576.7 L632.1 577.1 M639.5 593.6 L639.7 594.0 L640.1 594.9 L640.5 595.8 L640.9 596.7 L641.3 597.7 L641.7 598.6 L642.0 599.5 L642.4 600.4 L642.8 601.3 L643.2 602.2 L643.2 602.4 M650.2 619.1 L650.5 619.7 L650.8 620.6 L651.2 621.5 L651.6 622.4 L652.0 623.3 L652.4 624.2 L652.8 625.1 L653.2 626.0 L653.6 627.0 L654.0 627.8 M661.9 644.2 L662.4 645.0 L662.8 645.9 L663.3 646.7" fill="none" stroke="#000" stroke-width="5.0" stroke-linecap="round"/>
<path d="M148.0 296.7 L149.0 296.9 L150.0 297.1 L150.0 297.1 M159.3 299.0 L159.7 299.1 L160.7 299.3 L161.2 299.5 M170.5 301.5 L171.4 301.7 L172.4 301.9 L172.5 301.9 M181.7 304.0 L182.2 304.1 L183.1 304.3 L183.7 304.4 M192.9 306.5 L193.9 306.7 L194.8 307.0 L194.9 307.0 M204.1 309.1 L204.6 309.2 L205.6 309.5 L206.1 309.6 M215.3 311.7 L216.3 312.0 L217.3 312.2 L217.3 312.2 M226.5 314.4 L227.0 314.5 L228.0 314.7 L228.5 314.8 M237.7 317.0 L237.8 317.0 L238.7 317.3 L239.7 317.5 M248.9 319.7 L249.5 319.8 L250.4 320.0 L250.9 320.1 M260.1 322.3 L260.2 322.3 L261.2 322.6 L262.1 322.8 M271.3 325.0 L271.8 325.1 L272.8 325.3 L273.2 325.4 M282.5 327.6 L283.4 327.9 L284.4 328.1 L284.4 328.1 M293.7 330.3 L294.0 330.4 L295.0 330.6 L295.6 330.8 M304.8 333.2 L305.5 333.4 L306.4 333.7 L306.7 333.8 M315.8 336.5 L315.9 336.5 L316.8 336.9 L317.7 337.1 M326.6 340.4 L327.1 340.6 L328.1 341.0 L328.5 341.1 M337.2 345.0 L337.3 345.0 L338.3 345.4 L339.0 345.8 M347.6 350.0 L348.3 350.3 L349.2 350.8 L349.3 350.8 M357.8 355.2 L358.3 355.4 L359.2 355.9 L359.6 356.1 M368.1 360.3 L368.3 360.4 L369.2 360.9 L369.9 361.2 M378.4 365.3 L379.1 365.6 L380.0 366.0 L380.3 366.1 M388.9 370.1 L388.9 370.1 L389.8 370.5 L390.7 370.9 L390.7 370.9 M399.4 374.7 L399.7 374.8 L400.6 375.2 L401.3 375.5 M409.9 379.4 L410.5 379.7 L411.4 380.1 L411.8 380.2 M420.4 384.2 L420.4 384.2 L421.3 384.7 L422.2 385.1 M430.7 389.2 L431.2 389.5 L432.1 389.9 L432.5 390.1 M441.0 394.4 L441.1 394.4 L442.0 394.9 L442.8 395.3 M451.1 399.8 L451.7 400.2 L452.6 400.7 L452.9 400.8 M461.1 405.6 L461.3 405.7 L462.2 406.2 L462.8 406.6 M470.9 411.6 L471.6 412.0 L472.5 412.6 L472.6 412.6 M480.5 417.9 L480.8 418.2 L481.7 418.7 L482.1 419.1 M489.9 424.6 L490.6 425.2 L491.5 425.8 L491.5 425.8 M499.1 431.4 L499.5 431.6 L500.3 432.2 L500.8 432.6 M508.5 438.1 L509.1 438.6 L509.9 439.2 L510.1 439.3 M517.6 445.1 L517.7 445.2 L518.4 445.8 L519.1 446.4 M526.2 452.8 L526.5 453.2 L527.3 453.8 L527.6 454.2 M534.2 461.0 L534.3 461.0 L535.0 461.8 L535.6 462.4 M541.9 469.5 L542.3 470.1 L543.0 470.8 L543.2 471.1 M549.3 478.4 L549.4 478.6 L550.1 479.4 L550.5 479.9 M556.4 487.4 L557.0 488.0 L557.6 488.8 L557.7 488.9 M563.5 496.5 L563.7 496.7 L564.3 497.5 L564.7 498.1 M570.3 505.7 L570.8 506.3 L571.3 507.1 L571.5 507.3 M577.0 515.1 L577.1 515.2 L577.7 516.0 L578.1 516.7 M583.5 524.5 L583.8 525.0 L584.4 525.8 L584.6 526.2 M589.9 534.1 L589.9 534.1 L590.4 535.0 L590.9 535.8 M596.0 543.8 L596.3 544.2 L596.8 545.1 L597.1 545.5 M602.0 553.6 L602.0 553.7 L602.5 554.5 L603.0 555.4 M607.9 563.6 L608.2 564.1 L608.7 565.0 L608.8 565.3 M613.5 573.6 L613.6 573.8 L614.1 574.7 L614.4 575.4 M618.8 583.8 L619.2 584.5 L619.6 585.4 L619.7 585.6 M623.8 594.1 L624.0 594.5 L624.4 595.4 L624.7 595.9 M628.5 604.7 L628.8 605.4 L629.2 606.4 L629.2 606.5 M632.7 615.3 L632.8 615.6 L633.2 616.5 L633.4 617.2 M636.7 626.1 L636.9 626.8 L637.2 627.7 L637.3 628.0 M640.4 637.0 L640.4 637.1 L640.7 638.0 L641.0 638.9 M644.0 647.9 L644.1 648.4 L644.4 649.4 L644.6 649.8 M647.5 658.9 L647.8 659.8 L648.1 660.8 L648.1 660.8 M651.0 669.9 L651.1 670.3 L651.4 671.2 L651.6 671.8 M654.5 680.8 L654.8 681.7 L655.1 682.7 L655.1 682.7 M658.2 691.7 L658.4 692.2 L658.7 693.2 L658.8 693.6 M661.9 702.6 L662.0 702.7 L662.3 703.7 L662.6 704.5" fill="none" stroke="#0000ff" stroke-width="5.3" stroke-linecap="round"/>
<path d="M121.8 214.8 L122.3 215.1 L123.1 215.7 L123.4 216.0 M131.2 221.5 L132.0 222.1 L132.9 222.6 L132.9 222.6 M140.7 228.0 L141.1 228.3 L141.9 228.9 L142.4 229.2 M150.3 234.5 L151.1 235.0 L151.9 235.5 L152.0 235.6 M160.0 240.8 L160.3 241.0 L161.1 241.5 L161.7 241.9 M169.7 247.0 L170.4 247.4 L171.3 248.0 L171.4 248.0 M179.5 253.1 L179.7 253.3 L180.6 253.8 L181.2 254.2 M189.3 259.2 L190.0 259.6 L190.8 260.1 L191.0 260.2 M199.2 265.2 L199.4 265.3 L200.2 265.8 L200.9 266.2 M209.1 271.2 L209.6 271.5 L210.5 272.0 L210.8 272.2 M219.0 277.1 L219.1 277.2 L219.9 277.7 L220.7 278.2 M228.8 283.1 L229.3 283.4 L230.2 283.9 L230.5 284.1 M238.7 289.1 L238.7 289.1 L239.6 289.6 L240.4 290.1 M248.5 295.1 L248.9 295.4 L249.8 295.9 L250.2 296.2 M258.3 301.2 L259.1 301.7 L259.9 302.3 L260.0 302.3 M268.1 307.5 L268.3 307.6 L269.2 308.2 L269.7 308.5 M277.7 313.8 L278.4 314.2 L279.2 314.7 L279.4 314.9 M287.3 320.2 L287.5 320.3 L288.3 320.9 L289.0 321.3 M296.8 326.8 L297.4 327.1 L298.2 327.7 L298.5 327.9 M306.3 333.4 L306.4 333.5 L307.2 334.1 L307.9 334.6 M315.6 340.1 L316.1 340.5 L316.9 341.1 L317.3 341.3 M325.0 346.9 L325.0 346.9 L325.8 347.5 L326.6 348.1 M334.3 353.8 L334.6 354.1 L335.4 354.7 L335.9 355.0 M343.5 360.7 L344.2 361.3 L345.0 361.9 L345.1 361.9 M352.7 367.7 L353.0 367.9 L353.8 368.6 L354.3 368.9 M361.8 374.8 L362.5 375.3 L363.3 375.9 L363.4 376.0 M370.9 381.9 L371.2 382.1 L372.0 382.7 L372.5 383.1 M380.0 389.0 L380.7 389.5 L381.5 390.1 L381.6 390.2 M389.1 396.1 L389.4 396.3 L390.2 396.9 L390.7 397.3 M398.2 403.2 L398.8 403.7 L399.6 404.3 L399.8 404.4 M407.3 410.3 L407.4 410.4 L408.2 411.0 L408.9 411.6 M416.3 417.5 L416.7 417.8 L417.5 418.4 L417.9 418.8 M425.3 424.8 L426.0 425.3 L426.7 425.9 L426.9 426.0 M434.2 432.1 L434.4 432.3 L435.2 432.9 L435.7 433.4 M443.0 439.6 L443.6 440.1 L444.4 440.7 L444.5 440.9 M451.8 447.1 L451.9 447.3 L452.7 447.9 L453.3 448.4 M460.4 454.8 L460.9 455.2 L461.7 455.9 L461.9 456.1 M469.0 462.5 L469.1 462.6 L469.9 463.3 L470.5 463.8 M477.5 470.3 L478.0 470.8 L478.7 471.5 L478.9 471.7 M485.9 478.3 L485.9 478.3 L486.7 479.0 L487.3 479.6 M494.1 486.3 L494.5 486.7 L495.3 487.4 L495.6 487.7 M502.3 494.5 L502.3 494.5 L503.0 495.2 L503.7 495.9 M510.3 502.8 L510.6 503.1 L511.3 503.8 L511.7 504.2 M518.2 511.2 L518.8 511.9 L519.5 512.6 L519.6 512.7 M526.0 519.7 L526.2 520.0 L526.9 520.7 L527.3 521.2 M533.6 528.4 L534.1 529.0 L534.8 529.7 L534.9 529.9 M541.1 537.2 L541.3 537.4 L541.9 538.1 L542.4 538.7 M548.5 546.1 L548.9 546.6 L549.5 547.4 L549.7 547.6 M555.6 555.1 L555.7 555.2 L556.4 556.0 L556.9 556.7 M562.7 564.3 L563.0 564.8 L563.6 565.6 L563.9 565.9 M569.5 573.6 L569.6 573.6 L570.2 574.4 L570.7 575.2 M576.2 583.0 L576.5 583.4 L577.1 584.2 L577.4 584.6 M582.8 592.5 L583.3 593.3 L583.9 594.1 L583.9 594.1 M589.1 602.1 L589.4 602.5 L589.9 603.3 L590.2 603.8 M595.3 611.9 L595.8 612.6 L596.3 613.5 L596.4 613.6 M601.3 621.7 L601.5 622.0 L602.0 622.9 L602.4 623.4 M607.2 631.7 L607.6 632.3 L608.1 633.2 L608.2 633.4 M612.8 641.7 L612.9 641.9 L613.4 642.8 L613.8 643.5 M618.3 651.9 L618.6 652.5 L619.1 653.4 L619.2 653.7 M623.6 662.2 L623.6 662.2 L624.1 663.1 L624.5 664.0 M628.7 672.5 L629.0 673.0 L629.4 673.9 L629.6 674.3 M633.7 682.9 L634.1 683.8 L634.6 684.7 L634.6 684.7 M638.5 693.4 L638.7 693.8 L639.1 694.8 L639.4 695.2 M643.2 704.0 L643.6 704.8 L644.0 705.8 L644.0 705.8" fill="none" stroke="#000" stroke-width="5.3" stroke-linecap="round"/>
<circle cx="271.5" cy="320.7" r="8.9" fill="#000080"/>
<circle cx="383.4" cy="401.6" r="9" fill="#ffd700"/>
<path d="M418.9 429.3 L431.9 442.3 M431.9 429.3 L418.9 442.3" stroke="#000" stroke-width="6.6" stroke-linecap="butt"/>
</g>
<path d="M137.9 705.1 V673.6 M137.9 124.1 V155.6" stroke="#000" stroke-width="3.6"/>
<path d="M173.0 705.1 V688.6 M173.0 124.1 V140.6" stroke="#000" stroke-width="3.0"/>
<path d="M208.0 705.1 V688.6 M208.0 124.1 V140.6" stroke="#000" stroke-width="3.0"/>
<path d="M243.1 705.1 V688.6 M243.1 124.1 V140.6" stroke="#000" stroke-width="3.0"/>
<path d="M278.2 705.1 V673.6 M278.2 124.1 V155.6" stroke="#000" stroke-width="3.6"/>
<path d="M313.2 705.1 V688.6 M313.2 124.1 V140.6" stroke="#000" stroke-width="3.0"/>
<path d="M348.3 705.1 V688.6 M348.3 124.1 V140.6" stroke="#000" stroke-width="3.0"/>
<path d="M383.4 705.1 V688.6 M383.4 124.1 V140.6" stroke="#000" stroke-width="3.0"/>
<path d="M418.5 705.1 V673.6 M418.5 124.1 V155.6" stroke="#000" stroke-width="3.6"/>
<path d="M453.5 705.1 V688.6 M453.5 124.1 V140.6" stroke="#000" stroke-width="3.0"/>
<path d="M488.6 705.1 V688.6 M488.6 124.1 V140.6" stroke="#000" stroke-width="3.0"/>
<path d="M523.7 705.1 V688.6 M523.7 124.1 V140.6" stroke="#000" stroke-width="3.0"/>
<path d="M558.7 705.1 V673.6 M558.7 124.1 V155.6" stroke="#000" stroke-width="3.6"/>
<path d="M593.8 705.1 V688.6 M593.8 124.1 V140.6" stroke="#000" stroke-width="3.0"/>
<path d="M628.9 705.1 V688.6 M628.9 124.1 V140.6" stroke="#000" stroke-width="3.0"/>
<path d="M663.9 705.1 V688.6 M663.9 124.1 V140.6" stroke="#000" stroke-width="3.0"/>
<path d="M699.0 705.1 V673.6 M699.0 124.1 V155.6" stroke="#000" stroke-width="3.6"/>
<path d="M124.3 253.6 H155.8 M705.8 253.6 H674.3" stroke="#000" stroke-width="3.6"/>
<path d="M124.3 172.7 H140.8 M705.8 172.7 H689.3" stroke="#000" stroke-width="3.0"/>
<path d="M124.3 125.4 H140.8 M705.8 125.4 H689.3" stroke="#000" stroke-width="3.0"/>
<path d="M124.3 522.3 H155.8 M705.8 522.3 H674.3" stroke="#000" stroke-width="3.6"/>
<path d="M124.3 441.4 H140.8 M705.8 441.4 H689.3" stroke="#000" stroke-width="3.0"/>
<path d="M124.3 394.1 H140.8 M705.8 394.1 H689.3" stroke="#000" stroke-width="3.0"/>
<path d="M124.3 360.5 H140.8 M705.8 360.5 H689.3" stroke="#000" stroke-width="3.0"/>
<path d="M124.3 334.5 H140.8 M705.8 334.5 H689.3" stroke="#000" stroke-width="3.0"/>
<path d="M124.3 313.2 H140.8 M705.8 313.2 H689.3" stroke="#000" stroke-width="3.0"/>
<path d="M124.3 295.2 H140.8 M705.8 295.2 H689.3" stroke="#000" stroke-width="3.0"/>
<path d="M124.3 279.6 H140.8 M705.8 279.6 H689.3" stroke="#000" stroke-width="3.0"/>
<path d="M124.3 265.9 H140.8 M705.8 265.9 H689.3" stroke="#000" stroke-width="3.0"/>
<path d="M124.3 662.8 H140.8 M705.8 662.8 H689.3" stroke="#000" stroke-width="3.0"/>
<path d="M124.3 629.2 H140.8 M705.8 629.2 H689.3" stroke="#000" stroke-width="3.0"/>
<path d="M124.3 603.2 H140.8 M705.8 603.2 H689.3" stroke="#000" stroke-width="3.0"/>
<path d="M124.3 581.9 H140.8 M705.8 581.9 H689.3" stroke="#000" stroke-width="3.0"/>
<path d="M124.3 563.9 H140.8 M705.8 563.9 H689.3" stroke="#000" stroke-width="3.0"/>
<path d="M124.3 548.3 H140.8 M705.8 548.3 H689.3" stroke="#000" stroke-width="3.0"/>
<path d="M124.3 534.6 H140.8 M705.8 534.6 H689.3" stroke="#000" stroke-width="3.0"/>
<rect x="124.3" y="124.1" width="581.5" height="581.0" fill="none" stroke="#000" stroke-width="4.4"/>
<path d="M172.7 461.3 H179.6 M198.4 461.3 H207.4" stroke="#0000ff" stroke-width="5.0" stroke-linecap="round"/>
<path d="M182 511.6 h2 M193.5 511.6 h2 M204.9 511.6 h2" stroke="#0000ff" stroke-width="5.3" stroke-linecap="round"/>
<path d="M172.7 562 H179.6 M198.3 562 H207.2" stroke="#000" stroke-width="5.0" stroke-linecap="round"/>
<path d="M182 612.7 h2 M193.5 612.7 h2 M204.9 612.7 h2" stroke="#000" stroke-width="5.3" stroke-linecap="round"/>
<g style="will-change:opacity" opacity="0.9999">
<text font-size="28.5" stroke-width="0.28" transform="translate(119.65,743.20) scale(1.0519,1.0158)">0.6</text>
<text font-size="28.5" stroke-width="0.28" transform="translate(259.44,743.20) scale(1.0647,1.0158)">0.8</text>
<text font-size="28.5" stroke-width="0.28" transform="translate(399.45,743.20) scale(1.0584,1.0158)">1.0</text>
<text font-size="28.5" stroke-width="0.28" transform="translate(539.77,743.20) scale(1.0909,1.0225)">1.2</text>
<text font-size="28.5" stroke-width="0.28" transform="translate(679.51,743.20) scale(1.0779,1.0225)">1.4</text>
<g transform="translate(101.8,280.8) rotate(-90)"><text font-size="28.5" stroke-width="0.28" transform="translate(-2.55,0.00) scale(1.0200,1.0421)">10</text><path d="M28.9 -15.9 L41.9 -15.9" stroke="#000" stroke-width="1.2" fill="none"/><text font-size="20" stroke-width="0.21" transform="translate(45.03,-10.60) scale(0.9544,1.0189)">1</text></g>
<g transform="translate(101.8,549.8) rotate(-90)"><text font-size="28.5" stroke-width="0.28" transform="translate(-2.55,0.00) scale(1.0200,1.0421)">10</text><path d="M28.9 -15.9 L41.9 -15.9" stroke="#000" stroke-width="1.2" fill="none"/><text font-size="20" stroke-width="0.20" transform="translate(44.14,-10.60) scale(1.2125,1.0189)">2</text></g>
<text class="i" font-size="29" stroke-width="0.27" transform="translate(355.53,776.70) scale(1.1594,1.0632)">M</text>
<text class="i" font-size="21" stroke-width="0.19" transform="translate(382.76,781.30) scale(1.1882,1.0835)">c</text>
<text font-size="29" stroke-width="0.32" transform="translate(405.98,777.53) scale(0.8933,1.1543)">(</text>
<text class="i" font-size="29" stroke-width="0.27" transform="translate(417.94,776.70) scale(1.1633,1.0632)">M</text>
<circle cx="454.05" cy="775.8" r="7.55" fill="none" stroke="#000" stroke-width="1.15"/><circle cx="454.05" cy="775.8" r="1.5" fill="#000"/>
<text font-size="29" stroke-width="0.30" transform="translate(465.96,777.53) scale(0.9600,1.1543)">)</text>
<g transform="translate(59.7,487.3) rotate(-90)">
<text class="i" font-size="29" stroke-width="0.27" transform="translate(0.43,0.00) scale(1.1556,1.0789)">M</text>
<text font-size="20.5" stroke-width="0.21" transform="translate(30.10,4.80) scale(1.0667,1.0000)">env</text>
<text font-size="29" stroke-width="0.28" transform="translate(76.82,0.21) scale(1.0267,1.1581)">(</text>
<text class="i" font-size="29" stroke-width="0.27" transform="translate(88.13,0.00) scale(1.1556,1.0789)">M</text>
<circle cx="124.8" cy="-1.0" r="7.55" fill="none" stroke="#000" stroke-width="1.15"/><circle cx="124.8" cy="-1.0" r="1.5" fill="#000"/>
<text font-size="29" stroke-width="0.28" transform="translate(135.00,0.21) scale(1.0267,1.1581)">)</text>
</g>
<text class="i" font-size="28" stroke-width="0.29" transform="translate(438.68,199.60) scale(0.9789,1.0068)">X</text>
<text font-size="19.5" stroke-width="0.22" transform="translate(458.70,203.50) scale(1.0740,0.8932)">4</text>
<path d="M478.9 190.10000000000002 L497.0 190.10000000000002" stroke="#000" stroke-width="1.15" fill="none"/><path d="M478.9 195.5 L497.0 195.5" stroke="#000" stroke-width="1.15" fill="none"/>
<text font-size="27.5" stroke-width="0.28" transform="translate(506.08,199.60) scale(1.0194,0.9863)">1.0</text>
<text font-size="15.4" stroke-width="0.17" transform="translate(234.35,459.50) scale(0.9915,0.8874)">4</text>
<text font-size="22" stroke-width="0.22" transform="translate(242.90,468.10) scale(1.1134,1.0226)">He</text>
<path d="M291.6 457.3 L278.2 463.1 L291.6 468.9" stroke="#000" stroke-width="1.15" fill="none" stroke-linejoin="miter"/>
<text font-size="22" stroke-width="0.22" transform="translate(299.43,468.10) scale(0.9987,1.0325)">25%</text>
<text font-size="15.4" stroke-width="0.17" transform="translate(234.35,509.50) scale(0.9915,0.8874)">4</text>
<text font-size="22" stroke-width="0.22" transform="translate(242.90,518.10) scale(1.1134,1.0226)">He</text>
<path d="M291.6 507.3 L278.2 513.1 L291.6 518.9" stroke="#000" stroke-width="1.15" fill="none" stroke-linejoin="miter"/>
<text font-size="22" stroke-width="0.22" transform="translate(299.56,518.10) scale(0.9954,1.0325)">50%</text>
<text class="i" font-size="22" stroke-width="0.21" transform="translate(233.47,568.70) scale(1.0311,1.0747)">t</text>
<text font-size="15" stroke-width="0.15" transform="translate(241.86,571.70) scale(1.2736,1.0000)">dyn</text>
<path d="M278.6 562.1 L293.8 562.1" stroke="#000" stroke-width="1.15" fill="none"/><path d="M278.6 566.4 L293.8 566.4" stroke="#000" stroke-width="1.15" fill="none"/>
<text class="i" font-size="22" stroke-width="0.22" transform="translate(301.00,568.70) scale(0.9956,1.0747)">t</text>
<text font-size="15" stroke-width="0.15" transform="translate(309.54,571.70) scale(1.2784,1.0000)">heat</text>
<text class="i" font-size="22" stroke-width="0.21" transform="translate(233.57,619.60) scale(1.0311,1.0747)">t</text>
<text font-size="15" stroke-width="0.15" transform="translate(241.86,622.50) scale(1.2782,1.0000)">dyn</text>
<path d="M278.6 612.9000000000001 L293.8 612.9000000000001" stroke="#000" stroke-width="1.15" fill="none"/><path d="M278.6 617.2 L293.8 617.2" stroke="#000" stroke-width="1.15" fill="none"/>
<text font-size="22" stroke-width="0.22" transform="translate(300.54,619.60) scale(1.0196,0.9983)">0.1</text>
<text class="i" font-size="22" stroke-width="0.22" transform="translate(336.89,619.60) scale(1.0133,1.0747)">t</text>
<text font-size="15" stroke-width="0.15" transform="translate(345.44,622.50) scale(1.2784,1.0000)">heat</text>
</g>
</svg>
</body></html>
